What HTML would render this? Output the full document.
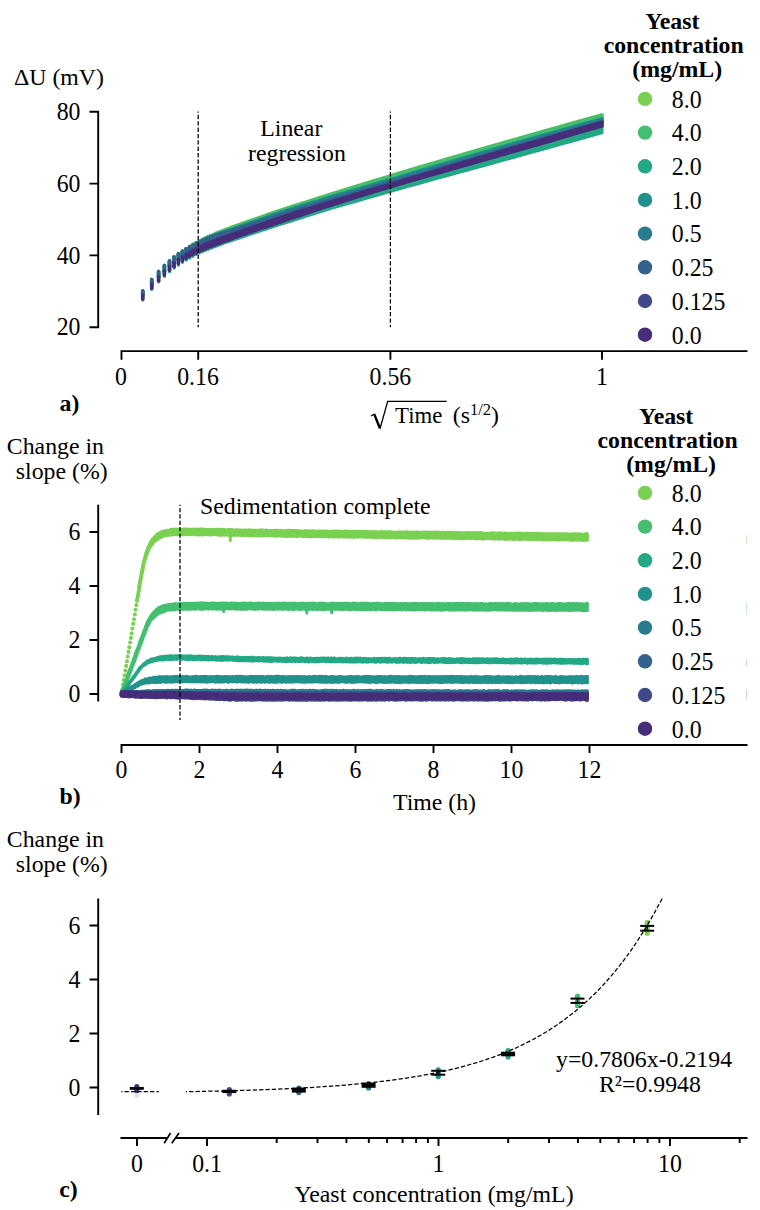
<!DOCTYPE html>
<html><head><meta charset="utf-8"><title>Figure</title>
<style>html,body{margin:0;padding:0;background:#fff}svg{display:block}text{font-family:"Liberation Serif",serif;font-size:23.8px;fill:#000}</style>
</head><body>
<svg width="760" height="1210" viewBox="0 0 760 1210">
<rect width="760" height="1210" fill="#fff"/>
<path d="M89.5 111.7H98.2V327.3H89.5M89.5 183.6H98.2M89.5 255.4H98.2" stroke="#000" stroke-width="1.9" fill="none"/>
<text transform="translate(80.5 119.8) scale(1 1.09)" text-anchor="end">80</text>
<text transform="translate(80.5 191.7) scale(1 1.09)" text-anchor="end">60</text>
<text transform="translate(80.5 263.5) scale(1 1.09)" text-anchor="end">40</text>
<text transform="translate(80.5 335.4) scale(1 1.09)" text-anchor="end">20</text>
<text x="14" y="84.6">&#916;U (mV)</text>
<path d="M121.5 359.7V351.1H747.5M198.2 351.1V359.7M390.4 351.1V359.7M602 351.1V359.7" stroke="#000" stroke-width="1.9" fill="none"/>
<text transform="translate(121.0 384.6) scale(1 1.09)" text-anchor="middle">0</text>
<text transform="translate(198.0 384.6) scale(1 1.09)" text-anchor="middle">0.16</text>
<text transform="translate(390.4 384.6) scale(1 1.09)" text-anchor="middle">0.56</text>
<text transform="translate(602.0 384.6) scale(1 1.09)" text-anchor="middle">1</text>
<text x="59.5" y="411.0" font-weight="bold" font-size="23">a)</text>
<path d="M371 416L374.4 413.9" stroke="#000" stroke-width="1.2" fill="none"/>
<path d="M374.2 414L379.8 428" stroke="#000" stroke-width="2.4" fill="none"/>
<path d="M379.9 429L387.7 401.3H446.8" stroke="#000" stroke-width="1.3" fill="none"/>
<text x="395.1" y="422.8" textLength="47.3" lengthAdjust="spacingAndGlyphs">Time</text>
<text x="452.8" y="422.8">(s<tspan dy="-8.3" font-size="16.5">1/2</tspan><tspan dy="8.3">)</tspan></text>
<text x="291.3" y="136" text-anchor="middle">Linear</text>
<text x="297" y="160.5" text-anchor="middle">regression</text>
<path d="M142.7 290.9V295.5M151.7 279.4V284.7M158.6 271.5V277.2M164.4 265.6V271.4M169.5 260.8V266.8M174.1 257.0V263.0M178.4 253.7V259.9M182.4 250.9V257.1M186.1 248.4V254.8M189.6 246.2V252.7M192.9 244.2V250.8M196.1 242.4V249.1M199.2 240.8V247.6M202.2 239.3V246.2M205.0 237.9V245.0M207.8 236.7V243.8M210.4 235.5V242.7M213.0 234.4V241.7M215.6 233.3V240.8M218.0 232.3V239.9M220.4 231.4V239.0M222.7 230.4V238.2M225.0 229.6V237.3M227.3 228.7V236.5M229.5 227.9V235.8M231.6 227.1V235.0M233.7 226.4V234.3M235.8 225.6V233.5M237.8 224.9V232.8M239.8 224.2V232.1M241.8 223.5V231.4M243.7 222.8V230.8M245.6 222.2V230.1M247.5 221.5V229.4M249.3 220.9V228.8M251.2 220.2V228.2M253.0 219.6V227.5M254.7 219.0V226.9M256.5 218.4V226.3M258.2 217.8V225.7M259.9 217.2V225.1M261.6 216.7V224.6M263.3 216.1V224.0M264.9 215.5V223.4M266.5 215.0V222.9M268.1 214.4V222.3M269.7 213.9V221.8M271.3 213.4V221.3M272.9 212.8V220.7M274.4 212.3V220.2M275.9 211.8V219.7M277.4 211.3V219.2M278.9 210.8V218.7M280.4 210.3V218.2M281.9 209.8V217.7M283.3 209.4V217.2M284.8 208.9V216.8M286.2 208.4V216.3M287.6 207.9V215.8M289.0 207.5V215.3M290.4 207.0V214.9M291.8 206.6V214.4M293.2 206.1V214.0M294.5 205.7V213.5M295.9 205.2V213.1M297.2 204.8V212.7M298.6 204.4V212.2M299.9 203.9V211.8M301.2 203.5V211.4M302.5 203.1V211.0" stroke="#7ad151" stroke-width="3.5" stroke-linecap="round" fill="none"/>
<polygon points="265.3,213.6 274.9,210.4 284.5,207.2 294.2,204.1 303.8,200.9 313.4,197.8 323.0,194.8 332.6,191.7 342.3,188.7 351.9,185.7 361.5,182.8 371.1,179.8 380.7,176.9 390.4,174.0 400.0,171.1 409.6,168.2 419.2,165.3 428.8,162.5 438.5,159.7 448.1,156.8 457.7,154.0 467.3,151.2 476.9,148.4 486.6,145.7 496.2,142.9 505.8,140.1 515.4,137.4 525.0,134.7 534.7,131.9 544.3,129.2 553.9,126.5 563.5,123.8 573.1,121.1 582.8,118.4 592.4,115.7 602.0,113.1 603.5,113.7 603.5,123.7 602.0,124.3 592.4,127.1 582.8,129.8 573.1,132.6 563.5,135.4 553.9,138.1 544.3,140.9 534.7,143.7 525.0,146.5 515.4,149.2 505.8,152.0 496.2,154.8 486.6,157.6 476.9,160.4 467.3,163.2 457.7,166.0 448.1,168.8 438.5,171.6 428.8,174.4 419.2,177.2 409.6,180.0 400.0,182.8 390.4,185.7 380.7,188.5 371.1,191.4 361.5,194.3 351.9,197.2 342.3,200.2 332.6,203.2 323.0,206.2 313.4,209.2 303.8,212.3 294.2,215.4 284.5,218.6 274.9,221.8 265.3,225.1" fill="#7ad151"/>
<path d="M142.7 290.9V295.5M151.7 279.4V284.7M158.6 271.5V277.2M164.4 265.6V271.4M169.5 260.8V266.8M174.1 257.0V263.0M178.4 253.7V259.9M182.4 250.9V257.1M186.1 248.5V254.8M189.6 246.3V252.7M192.9 244.3V250.8M196.1 242.6V249.1M199.2 240.9V247.6M202.2 239.5V246.2M205.0 238.1V245.0M207.8 236.8V243.8M210.4 235.6V242.7M213.0 234.5V241.7M215.6 233.5V240.8M218.0 232.5V239.9M220.4 231.6V239.0M222.7 230.7V238.2M225.0 229.8V237.3M227.3 229.0V236.5M229.5 228.2V235.8M231.6 227.4V235.0M233.7 226.6V234.3M235.8 225.9V233.5M237.8 225.2V232.8M239.8 224.5V232.1M241.8 223.8V231.4M243.7 223.1V230.8M245.6 222.5V230.1M247.5 221.8V229.4M249.3 221.2V228.8M251.2 220.6V228.2M253.0 220.0V227.5M254.7 219.4V226.9M256.5 218.8V226.3M258.2 218.2V225.7M259.9 217.6V225.1M261.6 217.0V224.6M263.3 216.5V224.0M264.9 215.9V223.4M266.5 215.4V222.9M268.1 214.8V222.3M269.7 214.3V221.8M271.3 213.8V221.3M272.9 213.2V220.7M274.4 212.7V220.2M275.9 212.2V219.7M277.4 211.7V219.2M278.9 211.2V218.7M280.4 210.7V218.2M281.9 210.2V217.7M283.3 209.8V217.2M284.8 209.3V216.8M286.2 208.8V216.3M287.6 208.3V215.8M289.0 207.9V215.3M290.4 207.4V214.9M291.8 207.0V214.4M293.2 206.5V214.0M294.5 206.1V213.5M295.9 205.6V213.1M297.2 205.2V212.7M298.6 204.8V212.2M299.9 204.3V211.8M301.2 203.9V211.4M302.5 203.5V211.0" stroke="#44bf70" stroke-width="3.5" stroke-linecap="round" fill="none"/>
<polygon points="265.3,214.0 274.9,210.8 284.5,207.6 294.2,204.5 303.8,201.3 313.4,198.2 323.0,195.2 332.6,192.1 342.3,189.1 351.9,186.1 361.5,183.2 371.1,180.2 380.7,177.3 390.4,174.4 400.0,171.5 409.6,168.6 419.2,165.7 428.8,162.9 438.5,160.1 448.1,157.2 457.7,154.4 467.3,151.6 476.9,148.8 486.6,146.1 496.2,143.3 505.8,140.5 515.4,137.8 525.0,135.1 534.7,132.3 544.3,129.6 553.9,126.9 563.5,124.2 573.1,121.5 582.8,118.8 592.4,116.1 602.0,113.5 603.5,114.1 603.5,123.7 602.0,124.3 592.4,127.1 582.8,129.8 573.1,132.6 563.5,135.4 553.9,138.1 544.3,140.9 534.7,143.7 525.0,146.5 515.4,149.2 505.8,152.0 496.2,154.8 486.6,157.6 476.9,160.4 467.3,163.2 457.7,166.0 448.1,168.8 438.5,171.6 428.8,174.4 419.2,177.2 409.6,180.0 400.0,182.8 390.4,185.7 380.7,188.5 371.1,191.4 361.5,194.3 351.9,197.2 342.3,200.2 332.6,203.2 323.0,206.2 313.4,209.2 303.8,212.3 294.2,215.4 284.5,218.6 274.9,221.8 265.3,225.1" fill="#44bf70"/>
<path d="M142.7 299.0V300.0M151.7 288.2V289.3M158.6 280.7V281.8M164.4 274.9V276.2M169.5 270.3V271.6M174.1 266.5V268.0M178.4 263.4V264.9M182.4 260.6V262.3M186.1 258.3V260.0M189.6 256.2V258.0M192.9 254.3V256.2M196.1 252.6V254.6M199.2 251.1V253.1M202.2 249.7V251.8M205.0 248.5V250.5M207.8 247.3V249.4M210.4 246.2V248.3M213.0 245.2V247.3M215.6 244.3V246.3M218.0 243.4V245.4M220.4 242.5V244.5M222.7 241.7V243.6M225.0 240.8V242.8M227.3 240.0V242.0M229.5 239.3V241.3M231.6 238.5V240.5M233.7 237.8V239.8M235.8 237.0V239.1M237.8 236.3V238.4M239.8 235.6V237.7M241.8 234.9V237.0M243.7 234.3V236.4M245.6 233.6V235.7M247.5 232.9V235.1M249.3 232.3V234.5M251.2 231.7V233.8M253.0 231.0V233.2M254.7 230.4V232.6M256.5 229.8V232.0M258.2 229.2V231.5M259.9 228.6V230.9M261.6 228.1V230.3M263.3 227.5V229.8M264.9 226.9V229.2M266.5 226.4V228.7M268.1 225.8V228.1M269.7 225.3V227.6M271.3 224.8V227.1M272.9 224.2V226.6M274.4 223.7V226.1M275.9 223.2V225.6M277.4 222.7V225.1M278.9 222.2V224.6M280.4 221.7V224.1M281.9 221.2V223.6M283.3 220.7V223.1M284.8 220.3V222.7M286.2 219.8V222.2M287.6 219.3V221.8M289.0 218.8V221.3M290.4 218.4V220.9M291.8 217.9V220.4M293.2 217.5V220.0M294.5 217.0V219.5M295.9 216.6V219.1M297.2 216.2V218.7M298.6 215.7V218.3M299.9 215.3V217.9M301.2 214.9V217.5M302.5 214.5V217.0" stroke="#22a884" stroke-width="3.5" stroke-linecap="round" fill="none"/>
<polygon points="265.3,225.1 274.9,221.8 284.5,218.6 294.2,215.4 303.8,212.3 313.4,209.2 323.0,206.2 332.6,203.2 342.3,200.2 351.9,197.2 361.5,194.3 371.1,191.4 380.7,188.5 390.4,185.7 400.0,182.8 409.6,180.0 419.2,177.2 428.8,174.4 438.5,171.6 448.1,168.8 457.7,166.0 467.3,163.2 476.9,160.4 486.6,157.6 496.2,154.8 505.8,152.0 515.4,149.2 525.0,146.5 534.7,143.7 544.3,140.9 553.9,138.1 563.5,135.4 573.1,132.6 582.8,129.8 592.4,127.1 602.0,124.3 603.5,124.9 603.5,133.7 602.0,134.3 592.4,137.0 582.8,139.7 573.1,142.4 563.5,145.1 553.9,147.8 544.3,150.4 534.7,153.1 525.0,155.8 515.4,158.4 505.8,161.1 496.2,163.7 486.6,166.4 476.9,169.0 467.3,171.7 457.7,174.3 448.1,177.0 438.5,179.6 428.8,182.3 419.2,185.0 409.6,187.6 400.0,190.3 390.4,193.0 380.7,195.7 371.1,198.5 361.5,201.2 351.9,204.0 342.3,206.8 332.6,209.6 323.0,212.5 313.4,215.4 303.8,218.4 294.2,221.4 284.5,224.5 274.9,227.6 265.3,230.8" fill="#22a884"/>
<path d="M142.7 290.9V295.5M151.7 279.4V284.7M158.6 271.5V277.2M164.4 265.6V271.4M169.5 260.9V266.8M174.1 257.1V263.0M178.4 254.0V259.9M182.4 251.2V257.1M186.1 248.9V254.8M189.6 246.8V252.7M192.9 244.9V250.8M196.1 243.2V249.1M199.2 241.6V247.6M202.2 240.3V246.2M205.0 239.0V245.0M207.8 237.8V243.8M210.4 236.7V242.7M213.0 235.7V241.7M215.6 234.8V240.8M218.0 233.9V239.9M220.4 233.0V239.0M222.7 232.2V238.2M225.0 231.4V237.3M227.3 230.6V236.5M229.5 229.9V235.8M231.6 229.2V235.0M233.7 228.5V234.3M235.8 227.8V233.5M237.8 227.1V232.8M239.8 226.4V232.1M241.8 225.7V231.4M243.7 225.1V230.8M245.6 224.4V230.1M247.5 223.7V229.4M249.3 223.1V228.8M251.2 222.5V228.2M253.0 221.9V227.5M254.7 221.3V226.9M256.5 220.7V226.3M258.2 220.1V225.7M259.9 219.5V225.1M261.6 218.9V224.6M263.3 218.4V224.0M264.9 217.8V223.4M266.5 217.3V222.9M268.1 216.7V222.3M269.7 216.2V221.8M271.3 215.7V221.3M272.9 215.1V220.7M274.4 214.6V220.2M275.9 214.1V219.7M277.4 213.6V219.2M278.9 213.1V218.7M280.4 212.6V218.2M281.9 212.1V217.7M283.3 211.7V217.2M284.8 211.2V216.8M286.2 210.7V216.3M287.6 210.3V215.8M289.0 209.8V215.3M290.4 209.4V214.9M291.8 208.9V214.4M293.2 208.5V214.0M294.5 208.0V213.5M295.9 207.6V213.1M297.2 207.2V212.7M298.6 206.7V212.2M299.9 206.3V211.8M301.2 205.9V211.4M302.5 205.5V211.0" stroke="#21918c" stroke-width="3.5" stroke-linecap="round" fill="none"/>
<polygon points="265.3,215.9 274.9,212.7 284.5,209.5 294.2,206.4 303.8,203.3 313.4,200.4 323.0,197.5 332.6,194.6 342.3,191.8 351.9,189.0 361.5,186.2 371.1,183.4 380.7,180.6 390.4,177.8 400.0,174.9 409.6,172.1 419.2,169.2 428.8,166.3 438.5,163.5 448.1,160.7 457.7,157.8 467.3,155.0 476.9,152.2 486.6,149.5 496.2,146.7 505.8,144.0 515.4,141.2 525.0,138.5 534.7,135.8 544.3,133.1 553.9,130.4 563.5,127.7 573.1,125.0 582.8,122.3 592.4,119.7 602.0,117.0 603.5,117.6 603.5,123.7 602.0,124.3 592.4,127.1 582.8,129.8 573.1,132.6 563.5,135.4 553.9,138.1 544.3,140.9 534.7,143.7 525.0,146.5 515.4,149.2 505.8,152.0 496.2,154.8 486.6,157.6 476.9,160.4 467.3,163.2 457.7,166.0 448.1,168.8 438.5,171.6 428.8,174.4 419.2,177.2 409.6,180.0 400.0,182.8 390.4,185.7 380.7,188.5 371.1,191.4 361.5,194.3 351.9,197.2 342.3,200.2 332.6,203.2 323.0,206.2 313.4,209.2 303.8,212.3 294.2,215.4 284.5,218.6 274.9,221.8 265.3,225.1" fill="#21918c"/>
<path d="M142.7 290.9V295.5M151.7 279.4V284.7M158.6 271.5V277.2M164.4 265.6V271.4M169.5 260.9V266.8M174.1 257.1V263.0M178.4 253.9V259.9M182.4 251.2V257.1M186.1 248.8V254.8M189.6 246.7V252.7M192.9 244.9V250.8M196.1 243.2V249.1M199.2 241.6V247.6M202.2 240.3V246.2M205.0 239.0V245.0M207.8 237.9V243.8M210.4 236.8V242.7M213.0 235.8V241.7M215.6 234.9V240.8M218.0 234.0V239.9M220.4 233.2V239.0M222.7 232.4V238.2M225.0 231.6V237.3M227.3 230.9V236.5M229.5 230.2V235.8M231.6 229.6V235.0M233.7 228.9V234.3M235.8 228.2V233.5M237.8 227.6V232.8M239.8 226.9V232.1M241.8 226.3V231.4M243.7 225.6V230.8M245.6 225.0V230.1M247.5 224.4V229.4M249.3 223.7V228.8M251.2 223.1V228.2M253.0 222.5V227.5M254.7 221.9V226.9M256.5 221.4V226.3M258.2 220.8V225.7M259.9 220.2V225.1M261.6 219.7V224.6M263.3 219.1V224.0M264.9 218.6V223.4M266.5 218.0V222.9M268.1 217.5V222.3M269.7 217.0V221.8M271.3 216.5V221.3M272.9 216.0V220.7M274.4 215.5V220.2M275.9 215.0V219.7M277.4 214.5V219.2M278.9 214.0V218.7M280.4 213.5V218.2M281.9 213.0V217.7M283.3 212.6V217.2M284.8 212.1V216.8M286.2 211.6V216.3M287.6 211.2V215.8M289.0 210.7V215.3M290.4 210.3V214.9M291.8 209.9V214.4M293.2 209.4V214.0M294.5 209.0V213.5M295.9 208.6V213.1M297.2 208.2V212.7M298.6 207.7V212.2M299.9 207.3V211.8M301.2 206.9V211.4M302.5 206.5V211.0" stroke="#287c8e" stroke-width="3.5" stroke-linecap="round" fill="none"/>
<polygon points="265.3,216.7 274.9,213.5 284.5,210.4 294.2,207.4 303.8,204.4 313.4,201.5 323.0,198.6 332.6,195.8 342.3,193.0 351.9,190.3 361.5,187.5 371.1,184.7 380.7,182.0 390.4,179.1 400.0,176.3 409.6,173.4 419.2,170.6 428.8,167.8 438.5,165.0 448.1,162.2 457.7,159.4 467.3,156.6 476.9,153.8 486.6,151.0 496.2,148.3 505.8,145.5 515.4,142.8 525.0,140.1 534.7,137.3 544.3,134.6 553.9,131.9 563.5,129.2 573.1,126.4 582.8,123.7 592.4,121.0 602.0,118.3 603.5,118.9 603.5,123.7 602.0,124.3 592.4,127.1 582.8,129.8 573.1,132.6 563.5,135.4 553.9,138.1 544.3,140.9 534.7,143.7 525.0,146.5 515.4,149.2 505.8,152.0 496.2,154.8 486.6,157.6 476.9,160.4 467.3,163.2 457.7,166.0 448.1,168.8 438.5,171.6 428.8,174.4 419.2,177.2 409.6,180.0 400.0,182.8 390.4,185.7 380.7,188.5 371.1,191.4 361.5,194.3 351.9,197.2 342.3,200.2 332.6,203.2 323.0,206.2 313.4,209.2 303.8,212.3 294.2,215.4 284.5,218.6 274.9,221.8 265.3,225.1" fill="#287c8e"/>
<path d="M142.7 290.9V295.5M151.7 279.4V284.7M158.6 271.5V277.2M164.4 265.6V271.4M169.5 260.9V266.8M174.1 257.1V263.0M178.4 253.9V259.9M182.4 251.2V257.1M186.1 248.8V254.8M189.6 246.7V252.7M192.9 244.9V250.8M196.1 243.2V249.1M199.2 241.7V247.6M202.2 240.4V246.2M205.0 239.2V245.0M207.8 238.1V243.8M210.4 237.1V242.7M213.0 236.2V241.7M215.6 235.3V240.8M218.0 234.5V239.9M220.4 233.7V239.0M222.7 233.0V238.2M225.0 232.3V237.3M227.3 231.6V236.5M229.5 231.0V235.8M231.6 230.4V235.0M233.7 229.8V234.3M235.8 229.2V233.5M237.8 228.6V232.8M239.8 228.0V232.1M241.8 227.3V231.4M243.7 226.7V230.8M245.6 226.1V230.1M247.5 225.6V229.4M249.3 225.0V228.8M251.2 224.4V228.2M253.0 223.8V227.5M254.7 223.3V226.9M256.5 222.7V226.3M258.2 222.2V225.7M259.9 221.6V225.1M261.6 221.1V224.6M263.3 220.6V224.0M264.9 220.1V223.4M266.5 219.5V222.9M268.1 219.0V222.3M269.7 218.5V221.8M271.3 218.0V221.3M272.9 217.6V220.7M274.4 217.1V220.2M275.9 216.6V219.7M277.4 216.1V219.2M278.9 215.7V218.7M280.4 215.2V218.2M281.9 214.7V217.7M283.3 214.3V217.2M284.8 213.8V216.8M286.2 213.4V216.3M287.6 213.0V215.8M289.0 212.5V215.3M290.4 212.1V214.9M291.8 211.7V214.4M293.2 211.2V214.0M294.5 210.8V213.5M295.9 210.4V213.1M297.2 210.0V212.7M298.6 209.6V212.2M299.9 209.2V211.8M301.2 208.8V211.4M302.5 208.4V211.0" stroke="#33638d" stroke-width="3.5" stroke-linecap="round" fill="none"/>
<polygon points="265.3,218.2 274.9,215.2 284.5,212.2 294.2,209.2 303.8,206.2 313.4,203.3 323.0,200.5 332.6,197.7 342.3,194.9 351.9,192.2 361.5,189.4 371.1,186.6 380.7,183.8 390.4,181.0 400.0,178.2 409.6,175.4 419.2,172.6 428.8,169.7 438.5,166.9 448.1,164.1 457.7,161.3 467.3,158.5 476.9,155.7 486.6,153.0 496.2,150.2 505.8,147.4 515.4,144.7 525.0,141.9 534.7,139.2 544.3,136.4 553.9,133.7 563.5,130.9 573.1,128.2 582.8,125.4 592.4,122.7 602.0,119.9 603.5,120.5 603.5,123.7 602.0,124.3 592.4,127.1 582.8,129.8 573.1,132.6 563.5,135.4 553.9,138.1 544.3,140.9 534.7,143.7 525.0,146.5 515.4,149.2 505.8,152.0 496.2,154.8 486.6,157.6 476.9,160.4 467.3,163.2 457.7,166.0 448.1,168.8 438.5,171.6 428.8,174.4 419.2,177.2 409.6,180.0 400.0,182.8 390.4,185.7 380.7,188.5 371.1,191.4 361.5,194.3 351.9,197.2 342.3,200.2 332.6,203.2 323.0,206.2 313.4,209.2 303.8,212.3 294.2,215.4 284.5,218.6 274.9,221.8 265.3,225.1" fill="#33638d"/>
<path d="M142.7 295.2V298.9M151.7 284.2V288.3M158.6 276.6V280.9M164.4 270.8V275.1M169.5 266.2V270.6M174.1 262.4V266.8M178.4 259.2V263.6M182.4 256.4V260.9M186.1 254.0V258.6M189.6 251.9V256.5M192.9 250.0V254.7M196.1 248.3V253.0M199.2 246.7V251.6M202.2 245.3V250.2M205.0 244.1V249.0M207.8 242.9V247.8M210.4 241.8V246.8M213.0 240.8V245.8M215.6 239.9V244.8M218.0 239.0V243.9M220.4 238.1V243.0M222.7 237.3V242.1M225.0 236.5V241.3M227.3 235.7V240.5M229.5 235.0V239.7M231.6 234.2V238.9M233.7 233.5V238.1M235.8 232.8V237.3M237.8 232.1V236.6M239.8 231.5V235.9M241.8 230.8V235.2M243.7 230.1V234.5M245.6 229.4V233.9M247.5 228.8V233.2M249.3 228.2V232.6M251.2 227.5V231.9M253.0 226.9V231.3M254.7 226.3V230.7M256.5 225.7V230.1M258.2 225.1V229.5M259.9 224.5V228.9M261.6 223.9V228.3M263.3 223.4V227.7M264.9 222.8V227.2M266.5 222.3V226.6M268.1 221.7V226.1M269.7 221.2V225.5M271.3 220.7V225.0M272.9 220.1V224.4M274.4 219.6V223.9M275.9 219.1V223.4M277.4 218.6V222.9M278.9 218.1V222.4M280.4 217.6V221.9M281.9 217.1V221.4M283.3 216.6V220.9M284.8 216.2V220.4M286.2 215.7V220.0M287.6 215.2V219.5M289.0 214.8V219.0M290.4 214.3V218.6M291.8 213.9V218.1M293.2 213.4V217.6M294.5 213.0V217.2M295.9 212.6V216.8M297.2 212.1V216.3M298.6 211.7V215.9M299.9 211.3V215.4M301.2 210.9V215.0M302.5 210.4V214.6" stroke="#3f4889" stroke-width="3.5" stroke-linecap="round" fill="none"/>
<polygon points="265.3,220.9 274.9,217.7 284.5,214.5 294.2,211.4 303.8,208.3 313.4,205.3 323.0,202.3 332.6,199.4 342.3,196.5 351.9,193.6 361.5,190.7 371.1,187.9 380.7,185.1 390.4,182.3 400.0,179.5 409.6,176.6 419.2,173.8 428.8,170.9 438.5,168.0 448.1,165.2 457.7,162.3 467.3,159.4 476.9,156.6 486.6,153.7 496.2,150.9 505.8,148.1 515.4,145.3 525.0,142.5 534.7,139.8 544.3,137.0 553.9,134.2 563.5,131.4 573.1,128.7 582.8,125.9 592.4,123.2 602.0,120.4 603.5,121.0 603.5,127.2 602.0,127.8 592.4,130.5 582.8,133.3 573.1,136.1 563.5,138.9 553.9,141.7 544.3,144.5 534.7,147.2 525.0,150.0 515.4,152.7 505.8,155.5 496.2,158.3 486.6,161.0 476.9,163.7 467.3,166.5 457.7,169.2 448.1,172.0 438.5,174.7 428.8,177.5 419.2,180.2 409.6,183.0 400.0,185.8 390.4,188.7 380.7,191.5 371.1,194.5 361.5,197.4 351.9,200.4 342.3,203.5 332.6,206.5 323.0,209.6 313.4,212.8 303.8,215.9 294.2,219.1 284.5,222.3 274.9,225.5 265.3,228.8" fill="#3f4889"/>
<path d="M142.7 295.6V298.6M151.7 284.6V288.0M158.6 277.0V280.6M164.4 271.2V274.8M169.5 266.6V270.3M174.1 262.8V266.5M178.4 259.6V263.3M182.4 256.8V260.6M186.1 254.4V258.3M189.6 252.3V256.2M192.9 250.4V254.4M196.1 248.7V252.7M199.2 247.1V251.3M202.2 245.7V249.9M205.0 244.5V248.7M207.8 243.3V247.5M210.4 242.2V246.5M213.0 241.2V245.5M215.6 240.3V244.5M218.0 239.4V243.6M220.4 238.5V242.7M222.7 237.7V241.8M225.0 236.9V241.0M227.3 236.1V240.2M229.5 235.4V239.4M231.6 234.6V238.6M233.7 233.9V237.8M235.8 233.2V237.0M237.8 232.5V236.3M239.8 231.9V235.6M241.8 231.2V234.9M243.7 230.5V234.2M245.6 229.8V233.6M247.5 229.2V232.9M249.3 228.6V232.3M251.2 227.9V231.6M253.0 227.3V231.0M254.7 226.7V230.4M256.5 226.1V229.8M258.2 225.5V229.2M259.9 224.9V228.6M261.6 224.3V228.0M263.3 223.8V227.4M264.9 223.2V226.9M266.5 222.7V226.3M268.1 222.1V225.8M269.7 221.6V225.2M271.3 221.1V224.7M272.9 220.5V224.1M274.4 220.0V223.6M275.9 219.5V223.1M277.4 219.0V222.6M278.9 218.5V222.1M280.4 218.0V221.6M281.9 217.5V221.1M283.3 217.0V220.6M284.8 216.6V220.1M286.2 216.1V219.7M287.6 215.6V219.2M289.0 215.2V218.7M290.4 214.7V218.3M291.8 214.3V217.8M293.2 213.8V217.3M294.5 213.4V216.9M295.9 213.0V216.5M297.2 212.5V216.0M298.6 212.1V215.6M299.9 211.7V215.1M301.2 211.3V214.7M302.5 210.8V214.3" stroke="#472c7a" stroke-width="3.5" stroke-linecap="round" fill="none"/>
<polygon points="265.3,221.3 274.9,218.1 284.5,214.9 294.2,211.8 303.8,208.7 313.4,205.7 323.0,202.7 332.6,199.8 342.3,196.9 351.9,194.0 361.5,191.1 371.1,188.3 380.7,185.5 390.4,182.7 400.0,179.9 409.6,177.0 419.2,174.2 428.8,171.3 438.5,168.4 448.1,165.6 457.7,162.7 467.3,159.8 476.9,157.0 486.6,154.1 496.2,151.3 505.8,148.5 515.4,145.7 525.0,142.9 534.7,140.2 544.3,137.4 553.9,134.6 563.5,131.8 573.1,129.1 582.8,126.3 592.4,123.6 602.0,120.8 603.5,121.4 603.5,126.9 602.0,127.5 592.4,130.2 582.8,133.0 573.1,135.8 563.5,138.6 553.9,141.4 544.3,144.2 534.7,146.9 525.0,149.7 515.4,152.4 505.8,155.2 496.2,158.0 486.6,160.7 476.9,163.4 467.3,166.2 457.7,168.9 448.1,171.7 438.5,174.4 428.8,177.2 419.2,179.9 409.6,182.7 400.0,185.5 390.4,188.4 380.7,191.2 371.1,194.2 361.5,197.1 351.9,200.1 342.3,203.2 332.6,206.2 323.0,209.3 313.4,212.5 303.8,215.6 294.2,218.8 284.5,222.0 274.9,225.2 265.3,228.5" fill="#472c7a"/>
<path d="M198.2 111.6L198.2 327.3" stroke="#000" stroke-width="1.25" fill="none" stroke-dasharray="4.3 2.06" stroke-dashoffset="3.1"/>
<path d="M390.4 111.6L390.4 327.3" stroke="#000" stroke-width="1.25" fill="none" stroke-dasharray="4.3 2.06" stroke-dashoffset="3.1"/>
<text x="672.3" y="28.7" text-anchor="middle" font-weight="bold">Yeast</text>
<text x="673.7" y="52.7" text-anchor="middle" font-weight="bold">concentration</text>
<text x="677.2" y="76.7" text-anchor="middle" font-weight="bold">(mg/mL)</text>
<circle cx="645" cy="98.9" r="7.2" fill="#7ad151"/>
<text transform="translate(671.8 107.7) scale(1 1.09)" font-size="22.8">8.0</text>
<circle cx="645" cy="132.6" r="7.2" fill="#44bf70"/>
<text transform="translate(671.8 141.4) scale(1 1.09)" font-size="22.8">4.0</text>
<circle cx="645" cy="166.3" r="7.2" fill="#22a884"/>
<text transform="translate(671.8 175.1) scale(1 1.09)" font-size="22.8">2.0</text>
<circle cx="645" cy="199.9" r="7.2" fill="#21918c"/>
<text transform="translate(671.8 208.7) scale(1 1.09)" font-size="22.8">1.0</text>
<circle cx="645" cy="233.6" r="7.2" fill="#287c8e"/>
<text transform="translate(671.8 242.4) scale(1 1.09)" font-size="22.8">0.5</text>
<circle cx="645" cy="267.3" r="7.2" fill="#33638d"/>
<text transform="translate(671.8 276.1) scale(1 1.09)" font-size="22.8">0.25</text>
<circle cx="645" cy="301.0" r="7.2" fill="#3f4889"/>
<text transform="translate(671.8 309.8) scale(1 1.09)" font-size="22.8">0.125</text>
<circle cx="645" cy="334.7" r="7.2" fill="#472c7a"/>
<text transform="translate(671.8 343.5) scale(1 1.09)" font-size="22.8">0.0</text>
<path d="M98.2 504.7V701.5" stroke="#000" stroke-width="1.9" fill="none"/>
<text transform="translate(80.5 702.1) scale(1 1.09)" text-anchor="end">0</text>
<text transform="translate(80.5 648.1) scale(1 1.09)" text-anchor="end">2</text>
<text transform="translate(80.5 594.1) scale(1 1.09)" text-anchor="end">4</text>
<text transform="translate(80.5 540.1) scale(1 1.09)" text-anchor="end">6</text>
<path d="M89.5 694.0H98.2M89.5 640.0H98.2M89.5 586.0H98.2M89.5 532.0H98.2" stroke="#000" stroke-width="1.9" fill="none"/>
<text transform="translate(121.5 778.3) scale(1 1.09)" text-anchor="middle">0</text>
<text transform="translate(199.5 778.3) scale(1 1.09)" text-anchor="middle">2</text>
<text transform="translate(277.5 778.3) scale(1 1.09)" text-anchor="middle">4</text>
<text transform="translate(355.5 778.3) scale(1 1.09)" text-anchor="middle">6</text>
<text transform="translate(433.5 778.3) scale(1 1.09)" text-anchor="middle">8</text>
<text transform="translate(511.5 778.3) scale(1 1.09)" text-anchor="middle">10</text>
<text transform="translate(589.5 778.3) scale(1 1.09)" text-anchor="middle">12</text>
<path d="M121.5 753V745H747.5M199.5 745V753M277.5 745V753M355.5 745V753M433.5 745V753M511.5 745V753M589.5 745V753" stroke="#000" stroke-width="1.9" fill="none"/>
<text x="6.8" y="453.9">Change in</text>
<text x="15.8" y="479.1">slope (%)</text>
<text x="59.5" y="804.1" font-weight="bold" font-size="23">b)</text>
<text x="434.5" y="810" text-anchor="middle">Time (h)</text>
<text x="200" y="514">Sedimentation complete</text>
<circle cx="122.3" cy="689.3" r="2.05" fill="#7ad151"/>
<circle cx="123.1" cy="684.6" r="2.05" fill="#7ad151"/>
<circle cx="123.8" cy="680.0" r="2.05" fill="#7ad151"/>
<circle cx="124.6" cy="675.3" r="2.05" fill="#7ad151"/>
<circle cx="125.4" cy="670.6" r="2.05" fill="#7ad151"/>
<circle cx="126.2" cy="665.9" r="2.05" fill="#7ad151"/>
<circle cx="127.0" cy="661.3" r="2.05" fill="#7ad151"/>
<circle cx="127.7" cy="656.6" r="2.05" fill="#7ad151"/>
<circle cx="128.5" cy="651.9" r="2.05" fill="#7ad151"/>
<circle cx="129.3" cy="647.2" r="2.05" fill="#7ad151"/>
<circle cx="130.1" cy="642.5" r="2.05" fill="#7ad151"/>
<circle cx="130.9" cy="637.9" r="2.05" fill="#7ad151"/>
<circle cx="131.6" cy="633.2" r="2.05" fill="#7ad151"/>
<circle cx="132.4" cy="628.5" r="2.05" fill="#7ad151"/>
<circle cx="133.2" cy="623.8" r="2.05" fill="#7ad151"/>
<circle cx="134.0" cy="619.2" r="2.05" fill="#7ad151"/>
<circle cx="134.8" cy="614.5" r="2.05" fill="#7ad151"/>
<circle cx="135.5" cy="609.8" r="2.05" fill="#7ad151"/>
<circle cx="136.3" cy="605.1" r="2.05" fill="#7ad151"/>
<circle cx="137.1" cy="600.5" r="2.05" fill="#7ad151"/>
<circle cx="137.9" cy="595.8" r="2.05" fill="#7ad151"/>
<circle cx="138.7" cy="591.1" r="2.05" fill="#7ad151"/>
<circle cx="139.4" cy="586.4" r="2.05" fill="#7ad151"/>
<circle cx="140.2" cy="581.7" r="2.05" fill="#7ad151"/>
<circle cx="141.0" cy="577.1" r="2.05" fill="#7ad151"/>
<circle cx="141.8" cy="572.6" r="2.05" fill="#7ad151"/>
<circle cx="142.6" cy="568.6" r="2.05" fill="#7ad151"/>
<polygon points="137.1,599.8 137.9,595.0 138.7,590.7 139.4,585.4 140.2,580.6 141.0,576.3 141.8,571.7 142.6,568.1 143.3,564.1 144.1,560.6 144.9,557.6 145.7,554.6 146.5,551.9 147.2,549.9 148.0,548.3 148.8,546.0 149.6,544.5 150.4,542.6 151.1,542.0 151.9,540.1 152.7,539.1 153.5,538.6 154.3,537.3 155.0,536.8 155.8,535.8 156.6,535.2 157.4,534.0 158.2,533.9 158.9,533.4 159.7,533.3 160.5,532.5 161.3,532.4 162.1,531.6 162.8,531.6 163.6,531.3 164.4,530.9 165.2,531.3 166.0,530.7 166.7,531.1 167.5,530.6 168.3,530.5 169.1,530.4 169.9,530.3 170.6,529.7 171.4,529.9 172.2,529.6 173.0,529.7 173.8,529.4 174.5,530.1 175.3,529.4 176.1,529.8 176.9,529.4 177.7,529.9 178.4,529.7 179.2,529.2 180.0,529.8 181.0,529.9 181.9,529.8 182.9,529.5 183.9,529.1 184.9,529.2 185.8,529.8 186.8,529.5 187.8,529.2 188.8,529.8 189.7,529.6 190.7,529.5 191.7,529.4 192.7,529.4 193.6,529.3 194.6,529.1 195.6,529.9 196.6,529.5 197.5,529.6 198.5,529.4 199.5,529.8 200.5,529.1 201.4,529.5 202.4,529.2 203.4,529.3 204.4,530.1 205.3,529.8 206.3,529.6 207.3,529.7 208.3,530.0 209.2,529.6 210.2,529.8 211.2,529.9 212.2,529.6 213.1,529.8 214.1,530.0 215.1,530.2 216.1,529.5 217.0,530.2 218.0,529.4 219.0,530.1 220.0,530.1 220.9,529.6 221.9,529.8 222.9,530.2 223.9,529.5 224.8,530.1 225.8,530.2 226.8,530.0 227.8,530.2 228.7,529.8 229.7,529.8 230.7,529.9 231.7,529.8 232.6,529.9 233.6,530.5 234.6,530.2 235.6,530.0 236.5,529.9 237.5,530.6 238.5,530.1 239.5,530.6 240.4,530.2 241.4,530.2 242.4,530.6 243.4,530.5 244.3,530.3 245.3,530.2 246.3,530.6 247.3,530.2 248.2,530.7 249.2,529.9 250.2,530.3 251.2,530.4 252.1,530.8 253.1,530.2 254.1,530.7 255.1,530.6 256.0,530.6 257.0,530.6 258.0,530.9 259.0,530.3 259.9,530.4 260.9,530.2 261.9,530.1 262.9,530.3 263.8,530.9 264.8,530.9 265.8,530.2 266.8,530.7 267.7,530.6 268.7,530.7 269.7,530.8 270.7,530.5 271.6,531.1 272.6,530.7 273.6,530.8 274.6,530.9 275.5,530.5 276.5,530.4 277.5,530.7 278.5,531.0 279.4,531.1 280.4,531.0 281.4,530.5 282.4,531.2 283.3,531.1 284.3,531.2 285.3,530.9 286.3,531.3 287.2,530.5 288.2,530.5 289.2,530.5 290.2,530.8 291.1,530.8 292.1,530.7 293.1,531.1 294.1,530.6 295.0,531.1 296.0,530.8 297.0,531.2 298.0,530.7 298.9,530.9 299.9,531.5 300.9,531.2 301.9,531.4 302.8,531.3 303.8,531.3 304.8,530.9 305.8,531.3 306.7,530.8 307.7,531.5 308.7,531.6 309.7,531.6 310.6,530.9 311.6,531.1 312.6,531.1 313.6,530.9 314.5,531.4 315.5,531.6 316.5,531.2 317.5,531.7 318.4,531.6 319.4,531.0 320.4,531.6 321.4,531.7 322.3,531.1 323.3,531.5 324.3,531.5 325.3,531.5 326.2,531.1 327.2,531.6 328.2,531.6 329.2,531.8 330.1,531.7 331.1,531.3 332.1,531.7 333.1,531.8 334.0,531.9 335.0,531.2 336.0,531.1 337.0,531.7 337.9,531.3 338.9,531.6 339.9,532.0 340.9,531.5 341.8,531.4 342.8,531.6 343.8,531.8 344.8,531.3 345.7,531.5 346.7,531.3 347.7,531.8 348.7,532.0 349.6,531.6 350.6,531.6 351.6,531.8 352.6,531.5 353.5,531.5 354.5,531.6 355.5,531.7 356.5,531.4 357.4,532.0 358.4,531.9 359.4,531.6 360.4,531.4 361.3,532.1 362.3,531.5 363.3,531.5 364.3,531.5 365.2,531.5 366.2,532.2 367.2,531.7 368.2,531.7 369.1,532.2 370.1,532.0 371.1,531.7 372.1,531.9 373.0,532.3 374.0,531.9 375.0,532.2 376.0,531.6 376.9,532.2 377.9,532.3 378.9,532.3 379.9,532.2 380.8,531.9 381.8,531.7 382.8,532.1 383.8,532.3 384.7,531.8 385.7,531.9 386.7,532.1 387.7,532.3 388.6,532.5 389.6,531.8 390.6,531.9 391.6,532.4 392.5,532.3 393.5,532.4 394.5,532.6 395.5,532.6 396.4,532.5 397.4,532.5 398.4,532.1 399.4,532.4 400.3,532.0 401.3,532.5 402.3,532.5 403.3,532.5 404.2,532.3 405.2,532.2 406.2,532.3 407.2,531.9 408.1,532.7 409.1,532.4 410.1,532.3 411.1,532.4 412.0,532.6 413.0,532.3 414.0,532.7 415.0,532.8 415.9,532.3 416.9,532.1 417.9,532.7 418.9,532.9 419.8,532.2 420.8,532.7 421.8,532.8 422.8,532.9 423.7,532.2 424.7,532.2 425.7,533.0 426.7,532.2 427.6,532.3 428.6,532.6 429.6,532.5 430.6,532.8 431.5,532.3 432.5,533.0 433.5,532.4 434.5,532.9 435.4,532.3 436.4,532.6 437.4,532.3 438.4,532.5 439.3,532.5 440.3,532.9 441.3,532.7 442.3,532.3 443.2,533.2 444.2,533.1 445.2,533.1 446.2,532.5 447.1,532.7 448.1,532.6 449.1,532.5 450.1,532.4 451.0,532.8 452.0,532.5 453.0,532.6 454.0,533.2 454.9,532.9 455.9,532.6 456.9,533.0 457.9,532.7 458.8,532.9 459.8,532.7 460.8,533.0 461.8,533.1 462.7,533.0 463.7,532.9 464.7,533.2 465.7,533.3 466.6,532.7 467.6,532.7 468.6,532.7 469.6,533.5 470.5,533.4 471.5,532.8 472.5,533.5 473.5,532.8 474.4,533.1 475.4,533.1 476.4,533.5 477.4,532.7 478.3,533.0 479.3,533.2 480.3,532.8 481.3,532.9 482.2,533.1 483.2,533.5 484.2,533.4 485.2,533.5 486.1,533.5 487.1,533.4 488.1,533.6 489.1,533.4 490.0,533.5 491.0,533.1 492.0,533.0 493.0,533.5 493.9,533.0 494.9,533.7 495.9,533.4 496.9,533.2 497.8,533.7 498.8,533.1 499.8,533.4 500.8,533.0 501.7,533.8 502.7,533.5 503.7,533.7 504.7,533.2 505.6,533.7 506.6,533.6 507.6,533.6 508.6,533.9 509.5,533.4 510.5,533.4 511.5,533.7 512.5,533.8 513.4,533.4 514.4,533.7 515.4,533.3 516.4,533.6 517.3,533.8 518.3,533.2 519.3,533.8 520.3,533.2 521.2,534.0 522.2,533.6 523.2,533.6 524.2,533.8 525.1,533.7 526.1,533.9 527.1,533.3 528.1,533.7 529.0,533.8 530.0,534.1 531.0,533.3 532.0,533.7 532.9,533.9 533.9,533.8 534.9,533.4 535.9,533.9 536.8,533.5 537.8,533.5 538.8,534.2 539.8,533.6 540.7,533.8 541.7,534.1 542.7,534.0 543.7,533.9 544.6,534.2 545.6,533.9 546.6,534.0 547.6,534.2 548.5,534.1 549.5,534.1 550.5,533.9 551.5,534.0 552.4,533.9 553.4,534.2 554.4,533.9 555.4,534.0 556.3,534.2 557.3,534.0 558.3,533.9 559.3,534.3 560.2,533.9 561.2,534.4 562.2,534.3 563.2,534.0 564.1,534.3 565.1,533.7 566.1,534.0 567.1,534.5 568.0,534.2 569.0,534.2 570.0,534.3 571.0,534.3 571.9,534.3 572.9,534.1 573.9,533.9 574.9,534.0 575.8,534.0 576.8,534.2 577.8,534.7 578.8,534.1 579.7,534.2 580.7,534.2 581.7,534.4 582.7,534.7 583.6,534.7 584.6,534.2 585.6,534.1 586.6,534.7 586.8,534.3 586.8,539.7 586.6,539.7 585.6,539.9 584.6,540.1 583.6,539.4 582.7,540.2 581.7,539.9 580.7,539.6 579.7,540.0 578.8,539.5 577.8,540.0 576.8,539.5 575.8,540.0 574.9,539.7 573.9,539.7 572.9,540.1 571.9,540.0 571.0,539.3 570.0,539.8 569.0,539.4 568.0,539.6 567.1,539.5 566.1,539.6 565.1,539.1 564.1,539.3 563.2,539.1 562.2,539.7 561.2,539.4 560.2,539.1 559.3,539.5 558.3,539.9 557.3,539.4 556.3,539.2 555.4,539.6 554.4,539.0 553.4,539.7 552.4,539.1 551.5,539.4 550.5,539.6 549.5,539.5 548.5,539.6 547.6,539.2 546.6,539.0 545.6,539.0 544.6,539.7 543.7,539.7 542.7,539.2 541.7,539.3 540.7,539.3 539.8,538.8 538.8,539.3 537.8,539.6 536.8,538.8 535.9,538.8 534.9,539.2 533.9,539.5 532.9,538.9 532.0,539.0 531.0,539.5 530.0,539.4 529.0,539.1 528.1,539.3 527.1,538.8 526.1,539.0 525.1,538.6 524.2,539.0 523.2,538.8 522.2,538.9 521.2,539.3 520.3,538.7 519.3,539.4 518.3,539.3 517.3,538.5 516.4,538.6 515.4,538.9 514.4,539.2 513.4,539.2 512.5,539.0 511.5,538.5 510.5,538.5 509.5,539.2 508.6,538.4 507.6,538.8 506.6,538.9 505.6,539.1 504.7,539.2 503.7,538.8 502.7,538.5 501.7,538.4 500.8,538.8 499.8,538.7 498.8,538.8 497.8,538.9 496.9,538.3 495.9,538.5 494.9,538.5 493.9,539.0 493.0,538.3 492.0,538.2 491.0,538.7 490.0,538.2 489.1,538.1 488.1,538.3 487.1,538.1 486.1,538.4 485.2,538.1 484.2,538.6 483.2,538.8 482.2,538.9 481.3,538.2 480.3,538.0 479.3,538.6 478.3,538.2 477.4,538.4 476.4,538.8 475.4,538.0 474.4,538.0 473.5,538.2 472.5,538.1 471.5,538.0 470.5,538.4 469.6,537.9 468.6,537.8 467.6,538.1 466.6,538.1 465.7,538.4 464.7,538.3 463.7,538.2 462.7,537.8 461.8,538.6 460.8,538.6 459.8,538.3 458.8,538.0 457.9,538.6 456.9,537.9 455.9,537.9 454.9,537.8 454.0,538.5 453.0,537.7 452.0,538.3 451.0,537.8 450.1,538.1 449.1,538.1 448.1,537.9 447.1,537.8 446.2,538.1 445.2,537.9 444.2,537.6 443.2,538.1 442.3,537.8 441.3,538.2 440.3,538.1 439.3,537.6 438.4,537.6 437.4,538.0 436.4,537.7 435.4,537.7 434.5,538.1 433.5,537.7 432.5,537.6 431.5,537.6 430.6,537.6 429.6,538.1 428.6,537.9 427.6,537.8 426.7,538.0 425.7,537.3 424.7,537.4 423.7,537.6 422.8,537.6 421.8,537.6 420.8,537.6 419.8,537.9 418.9,537.5 417.9,537.5 416.9,538.0 415.9,537.5 415.0,538.0 414.0,538.0 413.0,537.5 412.0,537.3 411.1,538.0 410.1,537.9 409.1,537.8 408.1,537.4 407.2,537.8 406.2,537.2 405.2,537.9 404.2,537.6 403.3,537.6 402.3,537.5 401.3,537.4 400.3,537.5 399.4,537.0 398.4,537.5 397.4,537.7 396.4,536.9 395.5,537.7 394.5,537.2 393.5,536.9 392.5,536.9 391.6,537.6 390.6,536.9 389.6,537.4 388.6,537.7 387.7,536.9 386.7,537.2 385.7,537.4 384.7,536.9 383.8,537.6 382.8,537.3 381.8,537.1 380.8,536.8 379.9,536.9 378.9,537.3 377.9,536.9 376.9,537.5 376.0,537.4 375.0,537.0 374.0,537.3 373.0,537.0 372.1,536.8 371.1,537.2 370.1,536.8 369.1,536.6 368.2,536.8 367.2,537.0 366.2,536.8 365.2,536.9 364.3,536.6 363.3,536.7 362.3,536.5 361.3,536.7 360.4,536.5 359.4,536.6 358.4,536.9 357.4,537.0 356.5,536.8 355.5,536.5 354.5,537.1 353.5,536.3 352.6,537.0 351.6,536.6 350.6,537.0 349.6,536.4 348.7,536.9 347.7,537.1 346.7,536.6 345.7,536.4 344.8,536.6 343.8,536.9 342.8,536.7 341.8,536.6 340.9,536.3 339.9,536.2 338.9,537.0 337.9,536.6 337.0,536.3 336.0,536.4 335.0,536.1 334.0,536.9 333.1,536.8 332.1,536.2 331.1,536.3 330.1,536.1 329.2,536.8 328.2,536.7 327.2,536.1 326.2,536.5 325.3,536.6 324.3,536.4 323.3,536.3 322.3,536.2 321.4,536.3 320.4,536.6 319.4,536.4 318.4,536.0 317.5,536.6 316.5,536.4 315.5,536.0 314.5,536.3 313.6,536.3 312.6,536.0 311.6,536.3 310.6,536.5 309.7,536.3 308.7,536.4 307.7,536.2 306.7,536.0 305.8,536.3 304.8,536.2 303.8,536.5 302.8,536.2 301.9,535.7 300.9,535.8 299.9,536.0 298.9,535.6 298.0,535.9 297.0,536.4 296.0,536.0 295.0,536.0 294.1,536.3 293.1,535.7 292.1,535.6 291.1,536.2 290.2,535.8 289.2,535.9 288.2,535.4 287.2,536.2 286.3,536.2 285.3,535.9 284.3,535.4 283.3,536.1 282.4,535.7 281.4,536.1 280.4,535.4 279.4,535.3 278.5,535.7 277.5,535.7 276.5,535.5 275.5,536.0 274.6,535.8 273.6,535.4 272.6,535.6 271.6,535.2 270.7,535.3 269.7,535.3 268.7,535.3 267.7,535.1 266.8,535.3 265.8,535.3 264.8,535.4 263.8,535.8 262.9,535.4 261.9,535.2 260.9,535.6 259.9,535.1 259.0,535.5 258.0,535.7 257.0,534.9 256.0,535.2 255.1,535.5 254.1,535.5 253.1,535.1 252.1,535.4 251.2,535.3 250.2,535.4 249.2,535.0 248.2,535.5 247.3,535.1 246.3,535.2 245.3,534.9 244.3,535.2 243.4,535.3 242.4,534.9 241.4,534.7 240.4,535.3 239.5,535.0 238.5,534.6 237.5,535.0 236.5,534.6 235.6,535.2 234.6,534.6 233.6,535.1 232.6,534.7 231.7,535.3 230.7,534.6 229.7,534.6 228.7,535.0 227.8,535.1 226.8,534.5 225.8,534.5 224.8,535.0 223.9,534.3 222.9,534.6 221.9,535.0 220.9,534.8 220.0,535.0 219.0,534.4 218.0,535.0 217.0,534.6 216.1,534.4 215.1,534.3 214.1,534.2 213.1,534.2 212.2,534.4 211.2,534.7 210.2,534.8 209.2,534.4 208.3,534.6 207.3,534.6 206.3,534.0 205.3,534.4 204.4,534.2 203.4,534.5 202.4,534.8 201.4,534.4 200.5,534.5 199.5,534.5 198.5,534.4 197.5,534.7 196.6,534.6 195.6,534.6 194.6,533.8 193.6,534.1 192.7,533.9 191.7,534.6 190.7,534.6 189.7,533.9 188.8,534.4 187.8,534.3 186.8,534.3 185.8,533.8 184.9,534.3 183.9,534.5 182.9,534.6 181.9,533.9 181.0,534.5 180.0,534.1 179.2,534.1 178.4,534.4 177.7,534.0 176.9,534.6 176.1,534.1 175.3,534.1 174.5,534.4 173.8,534.0 173.0,534.5 172.2,534.3 171.4,534.4 170.6,534.3 169.9,535.2 169.1,534.7 168.3,534.8 167.5,534.9 166.7,535.0 166.0,535.6 165.2,535.6 164.4,535.6 163.6,536.1 162.8,536.3 162.1,536.4 161.3,536.8 160.5,537.5 159.7,537.9 158.9,538.2 158.2,538.7 157.4,539.5 156.6,539.6 155.8,540.5 155.0,540.7 154.3,541.2 153.5,542.0 152.7,543.4 151.9,544.4 151.1,545.2 150.4,546.1 149.6,547.6 148.8,549.2 148.0,550.9 147.2,553.3 146.5,554.8 145.7,557.5 144.9,560.0 144.1,562.8 143.3,565.8 142.6,569.7 141.8,573.4 141.0,578.0 140.2,582.2 139.4,587.2 138.7,591.2 137.9,596.2 137.1,601.1" fill="#7ad151" stroke="#7ad151" stroke-width="3.5" stroke-linejoin="round"/>
<path d="M230.3 532.4V540.4" stroke="#7ad151" stroke-width="3" stroke-linecap="round" fill="none"/>
<rect x="585" y="532.6" width="3.7" height="8.9" fill="#7ad151"/>
<polygon points="121.5,692.0 122.3,690.1 123.1,688.3 123.8,685.7 124.6,684.1 125.4,682.3 126.2,680.2 127.0,678.0 127.7,675.8 128.5,673.1 129.3,671.7 130.1,669.0 130.9,667.4 131.6,665.3 132.4,663.0 133.2,660.8 134.0,658.4 134.8,656.6 135.5,654.3 136.3,652.0 137.1,649.9 137.9,648.4 138.7,646.4 139.4,643.6 140.2,641.4 141.0,639.5 141.8,637.3 142.6,635.2 143.3,633.5 144.1,631.2 144.9,629.1 145.7,626.8 146.5,625.1 147.2,622.9 148.0,621.3 148.8,619.8 149.6,618.7 150.4,616.8 151.1,616.0 151.9,614.6 152.7,614.1 153.5,612.7 154.3,612.0 155.0,611.5 155.8,610.6 156.6,609.4 157.4,608.9 158.2,609.1 158.9,607.8 159.7,607.6 160.5,607.8 161.3,606.6 162.1,606.4 162.8,606.2 163.6,605.8 164.4,605.9 165.2,605.8 166.0,605.3 166.7,605.0 167.5,605.4 168.3,605.3 169.1,604.9 169.9,604.4 170.6,604.7 171.4,604.6 172.2,604.4 173.0,604.7 173.8,604.2 174.5,604.2 175.3,603.8 176.1,604.1 176.9,604.3 177.7,604.2 178.4,603.7 179.2,604.3 180.0,604.0 181.0,603.7 181.9,603.7 182.9,604.0 183.9,603.4 184.9,603.8 185.8,603.9 186.8,603.7 187.8,604.0 188.8,603.6 189.7,603.6 190.7,603.4 191.7,604.0 192.7,603.4 193.6,603.7 194.6,603.5 195.6,603.9 196.6,603.9 197.5,603.1 198.5,604.0 199.5,603.6 200.5,603.1 201.4,603.5 202.4,603.1 203.4,603.6 204.4,603.2 205.3,603.4 206.3,603.3 207.3,603.6 208.3,603.8 209.2,603.9 210.2,603.4 211.2,603.6 212.2,603.1 213.1,603.4 214.1,603.9 215.1,603.2 216.1,603.9 217.0,603.7 218.0,603.3 219.0,603.8 220.0,603.3 220.9,603.9 221.9,603.2 222.9,603.2 223.9,603.8 224.8,603.5 225.8,603.2 226.8,603.5 227.8,603.4 228.7,603.6 229.7,603.8 230.7,603.9 231.7,603.1 232.6,603.6 233.6,604.0 234.6,603.5 235.6,603.8 236.5,603.2 237.5,603.9 238.5,603.6 239.5,603.9 240.4,603.8 241.4,603.9 242.4,603.2 243.4,603.8 244.3,603.3 245.3,603.4 246.3,603.4 247.3,603.7 248.2,603.7 249.2,604.0 250.2,603.1 251.2,603.3 252.1,603.5 253.1,603.9 254.1,603.6 255.1,603.6 256.0,603.8 257.0,603.7 258.0,603.4 259.0,603.2 259.9,603.6 260.9,603.9 261.9,603.7 262.9,603.2 263.8,603.5 264.8,603.5 265.8,603.7 266.8,603.7 267.7,604.0 268.7,603.5 269.7,603.5 270.7,603.7 271.6,604.0 272.6,603.8 273.6,603.6 274.6,603.9 275.5,603.6 276.5,604.0 277.5,603.4 278.5,603.3 279.4,603.9 280.4,603.4 281.4,603.9 282.4,603.7 283.3,603.6 284.3,603.3 285.3,603.9 286.3,603.2 287.2,604.0 288.2,604.0 289.2,603.5 290.2,603.3 291.1,604.0 292.1,603.6 293.1,603.3 294.1,603.6 295.0,603.4 296.0,603.6 297.0,603.8 298.0,604.0 298.9,603.9 299.9,603.3 300.9,603.6 301.9,603.6 302.8,604.1 303.8,603.3 304.8,603.7 305.8,604.0 306.7,603.6 307.7,603.4 308.7,603.7 309.7,603.5 310.6,604.1 311.6,603.3 312.6,603.4 313.6,603.3 314.5,603.9 315.5,603.5 316.5,604.0 317.5,604.0 318.4,604.1 319.4,603.5 320.4,603.2 321.4,603.6 322.3,604.1 323.3,603.9 324.3,603.3 325.3,603.9 326.2,604.1 327.2,604.1 328.2,603.9 329.2,604.0 330.1,604.0 331.1,603.6 332.1,603.3 333.1,603.9 334.0,603.4 335.0,603.6 336.0,604.2 337.0,603.8 337.9,603.7 338.9,604.1 339.9,603.5 340.9,604.2 341.8,604.1 342.8,603.6 343.8,603.6 344.8,603.4 345.7,604.1 346.7,603.4 347.7,603.3 348.7,604.1 349.6,603.8 350.6,603.9 351.6,603.9 352.6,603.3 353.5,603.4 354.5,603.7 355.5,603.3 356.5,603.7 357.4,604.0 358.4,603.9 359.4,603.9 360.4,603.3 361.3,603.5 362.3,604.1 363.3,603.4 364.3,603.8 365.2,603.3 366.2,604.2 367.2,603.5 368.2,603.7 369.1,603.8 370.1,604.0 371.1,604.2 372.1,604.0 373.0,603.6 374.0,603.4 375.0,604.0 376.0,604.2 376.9,603.3 377.9,604.0 378.9,603.5 379.9,603.7 380.8,603.8 381.8,603.9 382.8,604.2 383.8,604.0 384.7,603.7 385.7,604.0 386.7,603.8 387.7,603.7 388.6,603.7 389.6,603.8 390.6,603.6 391.6,603.6 392.5,603.5 393.5,603.7 394.5,603.6 395.5,604.1 396.4,604.1 397.4,603.7 398.4,603.9 399.4,604.2 400.3,603.7 401.3,603.9 402.3,603.8 403.3,604.0 404.2,604.2 405.2,603.5 406.2,604.2 407.2,604.0 408.1,604.1 409.1,603.9 410.1,604.2 411.1,603.7 412.0,604.0 413.0,603.6 414.0,603.8 415.0,604.0 415.9,603.6 416.9,603.4 417.9,604.1 418.9,604.1 419.8,604.0 420.8,603.7 421.8,604.0 422.8,603.5 423.7,604.0 424.7,603.9 425.7,604.0 426.7,603.8 427.6,603.6 428.6,604.1 429.6,603.8 430.6,604.1 431.5,603.7 432.5,603.5 433.5,603.9 434.5,604.0 435.4,604.2 436.4,604.2 437.4,603.5 438.4,604.1 439.3,603.7 440.3,604.1 441.3,603.8 442.3,603.7 443.2,603.9 444.2,603.9 445.2,604.1 446.2,604.0 447.1,604.0 448.1,603.8 449.1,604.0 450.1,603.8 451.0,604.0 452.0,603.9 453.0,604.0 454.0,603.5 454.9,603.9 455.9,603.6 456.9,603.8 457.9,603.5 458.8,604.0 459.8,604.3 460.8,603.8 461.8,603.6 462.7,604.0 463.7,603.6 464.7,604.3 465.7,603.6 466.6,603.8 467.6,603.9 468.6,603.6 469.6,603.8 470.5,603.7 471.5,604.1 472.5,604.4 473.5,603.8 474.4,604.2 475.4,603.6 476.4,604.0 477.4,603.9 478.3,603.7 479.3,604.2 480.3,604.2 481.3,603.6 482.2,603.8 483.2,604.2 484.2,604.4 485.2,604.0 486.1,604.3 487.1,604.4 488.1,604.2 489.1,604.1 490.0,603.7 491.0,603.8 492.0,604.1 493.0,604.3 493.9,603.8 494.9,603.9 495.9,603.5 496.9,604.1 497.8,603.9 498.8,604.2 499.8,603.7 500.8,604.1 501.7,604.1 502.7,603.9 503.7,603.7 504.7,603.9 505.6,604.2 506.6,603.7 507.6,603.6 508.6,603.9 509.5,603.7 510.5,604.3 511.5,604.3 512.5,604.4 513.4,604.3 514.4,604.1 515.4,603.7 516.4,604.3 517.3,604.2 518.3,604.2 519.3,604.2 520.3,604.3 521.2,603.8 522.2,604.2 523.2,604.0 524.2,603.9 525.1,603.9 526.1,603.7 527.1,604.0 528.1,603.9 529.0,603.9 530.0,604.3 531.0,604.2 532.0,604.2 532.9,604.5 533.9,603.8 534.9,604.0 535.9,603.7 536.8,603.9 537.8,604.4 538.8,603.7 539.8,604.3 540.7,604.4 541.7,604.0 542.7,604.3 543.7,604.0 544.6,603.9 545.6,604.0 546.6,603.8 547.6,603.9 548.5,603.9 549.5,604.5 550.5,603.9 551.5,603.8 552.4,604.4 553.4,603.7 554.4,604.5 555.4,604.4 556.3,604.2 557.3,604.0 558.3,603.8 559.3,603.7 560.2,603.7 561.2,603.9 562.2,604.0 563.2,604.4 564.1,604.1 565.1,604.5 566.1,604.3 567.1,603.8 568.0,604.1 569.0,603.8 570.0,603.7 571.0,604.5 571.9,603.9 572.9,603.8 573.9,603.7 574.9,604.2 575.8,604.1 576.8,603.7 577.8,604.3 578.8,603.9 579.7,604.3 580.7,604.1 581.7,604.1 582.7,604.1 583.6,604.3 584.6,604.5 585.6,604.4 586.6,603.7 586.8,604.1 586.8,610.0 586.6,610.4 585.6,610.1 584.6,610.3 583.6,610.4 582.7,610.1 581.7,610.2 580.7,610.0 579.7,609.6 578.8,609.9 577.8,609.7 576.8,609.7 575.8,610.0 574.9,609.7 573.9,609.9 572.9,609.8 571.9,609.9 571.0,610.3 570.0,610.3 569.0,610.2 568.0,609.7 567.1,609.6 566.1,610.1 565.1,610.2 564.1,609.6 563.2,609.9 562.2,610.0 561.2,609.7 560.2,610.1 559.3,609.6 558.3,609.6 557.3,610.3 556.3,609.9 555.4,610.2 554.4,610.1 553.4,609.8 552.4,610.0 551.5,610.1 550.5,609.6 549.5,610.2 548.5,610.2 547.6,610.0 546.6,609.9 545.6,609.7 544.6,609.6 543.7,610.1 542.7,609.6 541.7,610.2 540.7,609.8 539.8,609.6 538.8,609.4 537.8,610.1 536.8,609.8 535.9,609.6 534.9,610.0 533.9,609.8 532.9,610.0 532.0,609.4 531.0,610.2 530.0,610.0 529.0,610.1 528.1,610.2 527.1,609.8 526.1,609.8 525.1,609.7 524.2,609.9 523.2,609.9 522.2,610.1 521.2,610.0 520.3,609.8 519.3,609.4 518.3,610.1 517.3,609.9 516.4,610.0 515.4,610.0 514.4,609.5 513.4,609.7 512.5,610.1 511.5,609.4 510.5,609.9 509.5,609.7 508.6,609.5 507.6,610.1 506.6,609.8 505.6,609.6 504.7,609.8 503.7,609.7 502.7,609.9 501.7,609.6 500.8,609.5 499.8,609.7 498.8,609.6 497.8,609.9 496.9,609.3 495.9,609.5 494.9,609.4 493.9,609.2 493.0,609.5 492.0,609.6 491.0,609.5 490.0,610.0 489.1,609.9 488.1,609.4 487.1,610.0 486.1,609.8 485.2,609.9 484.2,609.2 483.2,609.7 482.2,609.9 481.3,609.8 480.3,609.6 479.3,609.9 478.3,609.3 477.4,609.6 476.4,610.0 475.4,609.2 474.4,610.0 473.5,610.0 472.5,609.2 471.5,609.6 470.5,609.7 469.6,609.6 468.6,609.4 467.6,609.7 466.6,609.8 465.7,609.5 464.7,609.9 463.7,609.5 462.7,609.8 461.8,609.8 460.8,609.4 459.8,609.8 458.8,609.5 457.9,609.4 456.9,609.7 455.9,609.9 454.9,609.8 454.0,609.3 453.0,609.3 452.0,609.9 451.0,609.1 450.1,609.8 449.1,609.7 448.1,609.4 447.1,609.1 446.2,609.2 445.2,609.5 444.2,609.3 443.2,609.9 442.3,609.7 441.3,609.9 440.3,609.8 439.3,609.7 438.4,609.7 437.4,609.1 436.4,609.7 435.4,609.3 434.5,609.9 433.5,609.5 432.5,609.3 431.5,609.9 430.6,609.3 429.6,609.2 428.6,609.4 427.6,609.6 426.7,609.3 425.7,609.8 424.7,609.8 423.7,609.1 422.8,609.2 421.8,609.2 420.8,609.3 419.8,609.2 418.9,609.6 417.9,609.4 416.9,609.5 415.9,609.1 415.0,609.7 414.0,609.8 413.0,609.0 412.0,609.7 411.1,609.2 410.1,608.9 409.1,609.8 408.1,609.3 407.2,609.1 406.2,609.8 405.2,609.2 404.2,608.9 403.3,609.1 402.3,609.2 401.3,609.7 400.3,609.2 399.4,609.4 398.4,609.1 397.4,609.5 396.4,609.6 395.5,608.9 394.5,609.2 393.5,609.7 392.5,609.7 391.6,609.2 390.6,609.4 389.6,609.7 388.6,609.6 387.7,609.1 386.7,609.5 385.7,609.6 384.7,609.2 383.8,609.4 382.8,609.6 381.8,608.9 380.8,609.3 379.9,608.8 378.9,609.0 377.9,609.1 376.9,608.8 376.0,609.7 375.0,608.8 374.0,609.2 373.0,608.8 372.1,609.0 371.1,609.5 370.1,609.6 369.1,609.6 368.2,609.6 367.2,609.1 366.2,608.9 365.2,609.6 364.3,608.8 363.3,609.3 362.3,609.1 361.3,609.6 360.4,609.0 359.4,609.3 358.4,609.3 357.4,608.9 356.5,608.8 355.5,609.6 354.5,608.9 353.5,609.1 352.6,609.1 351.6,609.1 350.6,609.5 349.6,609.6 348.7,609.3 347.7,609.1 346.7,609.0 345.7,608.9 344.8,609.0 343.8,609.2 342.8,608.9 341.8,608.8 340.9,609.4 339.9,608.9 338.9,608.9 337.9,608.9 337.0,608.8 336.0,609.0 335.0,609.1 334.0,609.1 333.1,609.1 332.1,609.1 331.1,609.3 330.1,609.1 329.2,609.1 328.2,609.1 327.2,608.7 326.2,608.8 325.3,609.4 324.3,609.3 323.3,608.8 322.3,609.4 321.4,608.7 320.4,609.2 319.4,608.8 318.4,609.3 317.5,608.7 316.5,609.2 315.5,609.0 314.5,608.6 313.6,608.8 312.6,609.5 311.6,608.8 310.6,608.8 309.7,608.6 308.7,609.3 307.7,609.0 306.7,608.9 305.8,609.2 304.8,609.0 303.8,608.7 302.8,608.5 301.9,609.1 300.9,609.2 299.9,609.2 298.9,609.1 298.0,608.7 297.0,608.8 296.0,608.9 295.0,608.7 294.1,609.3 293.1,609.3 292.1,608.5 291.1,608.8 290.2,609.0 289.2,608.7 288.2,609.4 287.2,608.5 286.3,608.7 285.3,608.9 284.3,608.5 283.3,608.9 282.4,609.2 281.4,608.8 280.4,608.7 279.4,608.7 278.5,608.9 277.5,608.9 276.5,608.8 275.5,608.7 274.6,608.9 273.6,609.3 272.6,608.5 271.6,609.1 270.7,609.1 269.7,609.0 268.7,608.6 267.7,609.0 266.8,608.9 265.8,609.0 264.8,608.7 263.8,608.9 262.9,608.5 261.9,608.8 260.9,608.6 259.9,608.6 259.0,608.4 258.0,609.1 257.0,608.9 256.0,608.5 255.1,609.1 254.1,609.0 253.1,608.9 252.1,608.4 251.2,608.7 250.2,608.4 249.2,608.6 248.2,608.6 247.3,609.0 246.3,608.5 245.3,609.0 244.3,608.9 243.4,609.0 242.4,609.1 241.4,609.0 240.4,608.9 239.5,608.7 238.5,608.8 237.5,609.0 236.5,608.5 235.6,608.7 234.6,608.8 233.6,608.6 232.6,608.6 231.7,608.6 230.7,608.5 229.7,608.7 228.7,608.6 227.8,608.3 226.8,608.6 225.8,608.6 224.8,608.4 223.9,608.4 222.9,608.7 221.9,608.9 220.9,609.0 220.0,608.4 219.0,608.7 218.0,608.8 217.0,609.0 216.1,609.0 215.1,608.4 214.1,608.2 213.1,608.9 212.2,608.5 211.2,608.5 210.2,608.3 209.2,608.5 208.3,609.0 207.3,608.2 206.3,608.5 205.3,608.4 204.4,608.8 203.4,608.9 202.4,609.1 201.4,609.0 200.5,609.1 199.5,608.6 198.5,608.5 197.5,608.3 196.6,608.3 195.6,609.0 194.6,608.9 193.6,608.5 192.7,608.7 191.7,608.5 190.7,608.7 189.7,609.0 188.8,608.7 187.8,609.0 186.8,609.0 185.8,609.1 184.9,608.9 183.9,608.6 182.9,609.2 181.9,608.4 181.0,608.7 180.0,609.2 179.2,609.3 178.4,608.7 177.7,609.1 176.9,608.9 176.1,609.1 175.3,609.2 174.5,609.5 173.8,609.0 173.0,609.0 172.2,609.8 171.4,609.5 170.6,609.5 169.9,609.7 169.1,609.7 168.3,609.8 167.5,609.8 166.7,610.1 166.0,610.2 165.2,610.8 164.4,611.2 163.6,611.2 162.8,611.9 162.1,611.5 161.3,612.0 160.5,612.6 159.7,612.9 158.9,613.1 158.2,613.3 157.4,614.2 156.6,614.9 155.8,615.0 155.0,615.4 154.3,616.9 153.5,617.3 152.7,618.3 151.9,618.6 151.1,619.5 150.4,620.7 149.6,622.1 148.8,623.9 148.0,625.2 147.2,626.5 146.5,628.3 145.7,630.5 144.9,632.8 144.1,634.8 143.3,636.5 142.6,638.4 141.8,641.0 141.0,643.4 140.2,645.3 139.4,647.0 138.7,649.1 137.9,651.1 137.1,653.2 136.3,655.8 135.5,657.8 134.8,660.0 134.0,661.9 133.2,663.8 132.4,665.8 131.6,668.5 130.9,670.3 130.1,672.3 129.3,674.5 128.5,676.6 127.7,678.6 127.0,681.1 126.2,683.3 125.4,685.3 124.6,687.6 123.8,689.1 123.1,691.1 122.3,693.1 121.5,695.4" fill="#44bf70" stroke="#44bf70" stroke-width="3.5" stroke-linejoin="round"/>
<path d="M223.7 606.1V611.4" stroke="#44bf70" stroke-width="3" stroke-linecap="round" fill="none"/>
<path d="M306.8 606.3V613.1" stroke="#44bf70" stroke-width="3" stroke-linecap="round" fill="none"/>
<path d="M331.7 606.4V612.7" stroke="#44bf70" stroke-width="3" stroke-linecap="round" fill="none"/>
<rect x="585" y="602.4" width="3.7" height="9.3" fill="#44bf70"/>
<polygon points="121.5,694.0 122.3,692.5 123.1,691.6 123.8,690.9 124.6,689.5 125.4,688.4 126.2,687.5 127.0,686.0 127.7,685.4 128.5,683.6 129.3,682.7 130.1,681.6 130.9,680.6 131.6,680.1 132.4,678.2 133.2,677.4 134.0,676.5 134.8,675.6 135.5,674.6 136.3,673.1 137.1,671.9 137.9,671.3 138.7,669.6 139.4,668.4 140.2,667.6 141.0,666.9 141.8,666.4 142.6,665.4 143.3,664.5 144.1,663.8 144.9,663.4 145.7,662.7 146.5,662.0 147.2,661.3 148.0,660.9 148.8,661.0 149.6,660.5 150.4,660.3 151.1,659.3 151.9,659.8 152.7,659.1 153.5,659.3 154.3,658.8 155.0,658.5 155.8,658.5 156.6,658.2 157.4,658.1 158.2,657.4 158.9,657.7 159.7,657.3 160.5,656.9 161.3,656.9 162.1,657.1 162.8,656.7 163.6,657.1 164.4,656.4 165.2,656.3 166.0,657.1 166.7,656.4 167.5,656.6 168.3,656.2 169.1,656.2 169.9,656.3 170.6,656.7 171.4,655.9 172.2,656.6 173.0,656.8 173.8,656.4 174.5,656.2 175.3,656.1 176.1,656.0 176.9,656.2 177.7,656.6 178.4,655.9 179.2,656.6 180.0,656.5 181.0,655.9 181.9,656.0 182.9,656.6 183.9,656.5 184.9,656.2 185.8,656.7 186.8,656.2 187.8,656.4 188.8,656.1 189.7,656.6 190.7,656.1 191.7,656.2 192.7,656.8 193.6,656.5 194.6,656.7 195.6,656.8 196.6,656.7 197.5,656.3 198.5,656.8 199.5,656.3 200.5,656.5 201.4,656.6 202.4,656.4 203.4,656.4 204.4,656.9 205.3,657.0 206.3,656.7 207.3,656.7 208.3,656.6 209.2,656.9 210.2,657.0 211.2,657.3 212.2,656.5 213.1,657.3 214.1,657.4 215.1,656.8 216.1,657.2 217.0,657.3 218.0,657.2 219.0,656.9 220.0,657.2 220.9,657.5 221.9,656.8 222.9,657.1 223.9,656.8 224.8,657.5 225.8,657.5 226.8,656.8 227.8,657.5 228.7,657.5 229.7,657.0 230.7,657.4 231.7,657.5 232.6,657.2 233.6,657.4 234.6,657.8 235.6,657.6 236.5,657.5 237.5,657.1 238.5,657.2 239.5,657.8 240.4,657.8 241.4,657.9 242.4,657.7 243.4,657.7 244.3,657.7 245.3,657.9 246.3,657.5 247.3,657.7 248.2,657.7 249.2,657.9 250.2,657.5 251.2,657.4 252.1,657.4 253.1,657.5 254.1,658.2 255.1,658.1 256.0,658.1 257.0,657.9 258.0,657.6 259.0,657.9 259.9,658.3 260.9,658.0 261.9,658.1 262.9,657.9 263.8,657.8 264.8,658.2 265.8,658.1 266.8,658.0 267.7,657.9 268.7,658.4 269.7,658.0 270.7,658.3 271.6,658.0 272.6,658.5 273.6,658.2 274.6,658.3 275.5,658.7 276.5,658.6 277.5,658.6 278.5,658.2 279.4,658.7 280.4,658.3 281.4,658.8 282.4,658.8 283.3,658.5 284.3,658.7 285.3,658.5 286.3,658.6 287.2,658.1 288.2,658.9 289.2,658.7 290.2,658.1 291.1,658.2 292.1,658.5 293.1,658.7 294.1,658.1 295.0,658.9 296.0,658.3 297.0,658.9 298.0,658.7 298.9,658.5 299.9,658.4 300.9,658.1 301.9,658.1 302.8,658.6 303.8,658.7 304.8,658.9 305.8,658.4 306.7,658.9 307.7,658.3 308.7,658.9 309.7,658.9 310.6,658.2 311.6,658.9 312.6,658.7 313.6,658.7 314.5,658.9 315.5,658.6 316.5,658.6 317.5,658.4 318.4,658.9 319.4,658.9 320.4,658.3 321.4,658.8 322.3,658.4 323.3,658.3 324.3,658.3 325.3,658.7 326.2,658.4 327.2,658.4 328.2,658.2 329.2,658.5 330.1,658.9 331.1,658.2 332.1,658.6 333.1,658.7 334.0,658.2 335.0,658.5 336.0,659.0 337.0,659.1 337.9,659.0 338.9,658.4 339.9,658.9 340.9,658.6 341.8,658.4 342.8,658.7 343.8,659.1 344.8,659.0 345.7,658.6 346.7,658.3 347.7,659.1 348.7,659.1 349.6,658.7 350.6,658.5 351.6,658.8 352.6,658.9 353.5,658.7 354.5,658.6 355.5,658.5 356.5,658.6 357.4,658.3 358.4,658.5 359.4,659.2 360.4,658.3 361.3,659.0 362.3,659.0 363.3,658.7 364.3,658.9 365.2,658.5 366.2,658.9 367.2,659.0 368.2,659.0 369.1,658.8 370.1,659.2 371.1,659.1 372.1,658.9 373.0,659.0 374.0,658.6 375.0,659.2 376.0,659.0 376.9,659.2 377.9,658.6 378.9,659.3 379.9,658.5 380.8,658.9 381.8,658.5 382.8,658.6 383.8,659.1 384.7,658.5 385.7,658.8 386.7,658.6 387.7,659.2 388.6,658.5 389.6,658.7 390.6,659.2 391.6,659.1 392.5,659.1 393.5,659.3 394.5,658.5 395.5,659.1 396.4,659.1 397.4,659.1 398.4,659.1 399.4,658.5 400.3,658.6 401.3,659.2 402.3,659.0 403.3,658.7 404.2,658.5 405.2,659.0 406.2,658.6 407.2,659.2 408.1,658.8 409.1,659.2 410.1,658.6 411.1,659.0 412.0,658.6 413.0,659.2 414.0,659.0 415.0,658.8 415.9,659.4 416.9,659.2 417.9,658.9 418.9,659.3 419.8,658.9 420.8,659.4 421.8,658.8 422.8,659.5 423.7,658.6 424.7,659.3 425.7,658.9 426.7,659.0 427.6,659.2 428.6,658.6 429.6,658.8 430.6,658.7 431.5,659.3 432.5,658.8 433.5,659.1 434.5,658.9 435.4,658.9 436.4,659.5 437.4,659.1 438.4,659.2 439.3,659.3 440.3,659.4 441.3,658.9 442.3,658.7 443.2,659.1 444.2,658.8 445.2,658.7 446.2,659.5 447.1,659.3 448.1,659.1 449.1,658.8 450.1,659.4 451.0,659.2 452.0,658.9 453.0,659.6 454.0,659.6 454.9,659.6 455.9,659.5 456.9,659.2 457.9,659.0 458.8,659.3 459.8,658.9 460.8,659.3 461.8,658.8 462.7,658.8 463.7,659.4 464.7,659.1 465.7,659.4 466.6,659.5 467.6,659.5 468.6,659.3 469.6,659.6 470.5,659.4 471.5,659.6 472.5,659.6 473.5,658.8 474.4,659.1 475.4,659.2 476.4,659.0 477.4,659.0 478.3,659.6 479.3,658.9 480.3,659.0 481.3,659.5 482.2,659.0 483.2,659.1 484.2,659.7 485.2,659.5 486.1,659.3 487.1,659.0 488.1,659.1 489.1,659.8 490.0,659.6 491.0,659.0 492.0,659.5 493.0,659.2 493.9,659.5 494.9,659.2 495.9,659.0 496.9,658.9 497.8,659.2 498.8,659.7 499.8,659.7 500.8,659.5 501.7,659.6 502.7,659.1 503.7,659.3 504.7,659.8 505.6,659.8 506.6,659.4 507.6,659.7 508.6,659.8 509.5,659.9 510.5,659.2 511.5,659.6 512.5,659.3 513.4,659.4 514.4,659.4 515.4,659.2 516.4,659.0 517.3,659.7 518.3,659.6 519.3,659.8 520.3,659.2 521.2,659.2 522.2,659.6 523.2,659.9 524.2,659.5 525.1,659.2 526.1,659.6 527.1,659.9 528.1,659.8 529.0,659.9 530.0,659.4 531.0,659.3 532.0,659.9 532.9,659.8 533.9,659.8 534.9,659.4 535.9,659.3 536.8,659.3 537.8,659.9 538.8,659.9 539.8,659.4 540.7,659.9 541.7,659.5 542.7,659.5 543.7,659.6 544.6,659.3 545.6,659.4 546.6,659.4 547.6,659.4 548.5,659.6 549.5,659.2 550.5,659.9 551.5,659.3 552.4,659.6 553.4,659.7 554.4,659.3 555.4,659.5 556.3,659.7 557.3,659.7 558.3,660.0 559.3,659.9 560.2,659.3 561.2,660.0 562.2,659.7 563.2,659.8 564.1,659.4 565.1,659.6 566.1,659.9 567.1,659.9 568.0,660.0 569.0,659.4 570.0,660.0 571.0,659.8 571.9,659.9 572.9,660.0 573.9,659.6 574.9,660.1 575.8,660.1 576.8,660.0 577.8,659.6 578.8,659.8 579.7,659.4 580.7,660.0 581.7,660.1 582.7,659.4 583.6,660.0 584.6,659.9 585.6,659.3 586.6,660.1 586.8,659.7 586.8,663.2 586.6,662.7 585.6,662.7 584.6,662.6 583.6,662.8 582.7,663.3 581.7,662.5 580.7,663.3 579.7,663.0 578.8,663.0 577.8,662.8 576.8,663.0 575.8,662.4 574.9,663.0 573.9,663.2 572.9,662.4 571.9,662.8 571.0,662.7 570.0,662.6 569.0,662.8 568.0,662.3 567.1,662.3 566.1,663.0 565.1,662.7 564.1,662.8 563.2,662.9 562.2,663.1 561.2,662.3 560.2,663.0 559.3,662.4 558.3,662.7 557.3,662.9 556.3,662.6 555.4,662.3 554.4,662.4 553.4,662.5 552.4,662.6 551.5,662.7 550.5,662.7 549.5,662.7 548.5,662.8 547.6,663.0 546.6,662.9 545.6,663.1 544.6,662.6 543.7,662.3 542.7,662.9 541.7,662.5 540.7,662.2 539.8,662.2 538.8,662.5 537.8,662.3 536.8,662.5 535.9,662.8 534.9,662.5 533.9,662.7 532.9,662.8 532.0,662.2 531.0,662.8 530.0,662.4 529.0,662.4 528.1,662.7 527.1,663.0 526.1,662.4 525.1,662.4 524.2,662.1 523.2,662.5 522.2,662.8 521.2,662.8 520.3,662.5 519.3,662.4 518.3,662.1 517.3,662.7 516.4,662.3 515.4,662.8 514.4,662.2 513.4,662.6 512.5,662.8 511.5,662.0 510.5,662.7 509.5,662.6 508.6,662.1 507.6,662.3 506.6,662.0 505.6,662.7 504.7,662.2 503.7,662.2 502.7,662.0 501.7,662.5 500.8,662.4 499.8,662.1 498.8,662.3 497.8,662.5 496.9,662.1 495.9,662.1 494.9,662.4 493.9,662.1 493.0,661.9 492.0,662.4 491.0,662.6 490.0,662.2 489.1,662.1 488.1,662.6 487.1,662.0 486.1,662.2 485.2,661.9 484.2,662.2 483.2,662.0 482.2,661.8 481.3,662.3 480.3,662.1 479.3,662.5 478.3,662.2 477.4,661.9 476.4,662.5 475.4,662.6 474.4,662.6 473.5,662.6 472.5,662.3 471.5,662.3 470.5,662.3 469.6,662.2 468.6,662.4 467.6,662.4 466.6,662.0 465.7,662.1 464.7,662.2 463.7,661.8 462.7,661.9 461.8,662.6 460.8,662.5 459.8,662.2 458.8,661.9 457.9,661.7 456.9,662.1 455.9,661.7 454.9,662.2 454.0,662.0 453.0,662.0 452.0,662.3 451.0,662.2 450.1,662.0 449.1,662.4 448.1,661.9 447.1,662.4 446.2,662.2 445.2,662.2 444.2,662.0 443.2,662.1 442.3,661.7 441.3,661.8 440.3,661.8 439.3,661.8 438.4,661.9 437.4,661.9 436.4,662.0 435.4,661.6 434.5,662.4 433.5,662.0 432.5,661.6 431.5,661.5 430.6,662.2 429.6,662.4 428.6,662.3 427.6,662.2 426.7,661.9 425.7,661.8 424.7,662.0 423.7,661.5 422.8,661.5 421.8,662.2 420.8,662.0 419.8,661.6 418.9,661.5 417.9,661.5 416.9,661.8 415.9,662.2 415.0,661.7 414.0,662.0 413.0,662.1 412.0,661.5 411.1,661.9 410.1,662.2 409.1,662.1 408.1,661.7 407.2,662.1 406.2,661.6 405.2,661.5 404.2,662.0 403.3,661.8 402.3,661.9 401.3,661.8 400.3,661.8 399.4,661.9 398.4,662.1 397.4,661.8 396.4,662.1 395.5,661.7 394.5,661.6 393.5,661.6 392.5,661.8 391.6,661.9 390.6,661.4 389.6,661.5 388.6,661.8 387.7,662.0 386.7,661.3 385.7,661.8 384.7,661.4 383.8,661.4 382.8,661.5 381.8,661.8 380.8,661.3 379.9,662.0 378.9,661.2 377.9,661.2 376.9,661.3 376.0,662.0 375.0,661.9 374.0,661.3 373.0,661.5 372.1,661.3 371.1,661.4 370.1,661.4 369.1,661.5 368.2,661.9 367.2,661.5 366.2,661.9 365.2,661.5 364.3,661.4 363.3,661.9 362.3,661.7 361.3,661.8 360.4,661.1 359.4,661.6 358.4,661.5 357.4,661.1 356.5,661.8 355.5,661.7 354.5,661.5 353.5,661.8 352.6,661.6 351.6,661.9 350.6,661.6 349.6,661.8 348.7,661.4 347.7,661.6 346.7,661.7 345.7,661.2 344.8,661.4 343.8,661.6 342.8,661.7 341.8,661.4 340.9,661.2 339.9,661.4 338.9,661.1 337.9,661.6 337.0,661.1 336.0,661.0 335.0,661.6 334.0,661.4 333.1,661.5 332.1,661.6 331.1,661.5 330.1,661.5 329.2,661.5 328.2,661.0 327.2,661.0 326.2,661.5 325.3,661.2 324.3,661.1 323.3,661.0 322.3,661.0 321.4,660.9 320.4,661.3 319.4,660.9 318.4,661.4 317.5,661.1 316.5,661.6 315.5,661.7 314.5,661.6 313.6,661.3 312.6,661.3 311.6,661.0 310.6,661.0 309.7,661.5 308.7,661.7 307.7,661.6 306.7,660.9 305.8,661.2 304.8,661.6 303.8,660.8 302.8,661.0 301.9,661.1 300.9,660.9 299.9,661.3 298.9,661.5 298.0,661.2 297.0,660.8 296.0,661.0 295.0,661.5 294.1,660.7 293.1,660.8 292.1,661.0 291.1,661.5 290.2,661.1 289.2,661.0 288.2,661.0 287.2,661.3 286.3,661.1 285.3,661.3 284.3,660.7 283.3,661.5 282.4,660.9 281.4,660.6 280.4,661.0 279.4,661.1 278.5,661.0 277.5,661.0 276.5,660.9 275.5,660.7 274.6,660.5 273.6,660.7 272.6,660.9 271.6,661.3 270.7,660.7 269.7,661.3 268.7,660.6 267.7,660.4 266.8,660.9 265.8,660.9 264.8,660.7 263.8,661.0 262.9,660.8 261.9,660.4 260.9,660.2 259.9,660.2 259.0,660.9 258.0,660.5 257.0,660.6 256.0,660.3 255.1,660.3 254.1,660.4 253.1,660.9 252.1,660.2 251.2,660.8 250.2,660.4 249.2,660.3 248.2,660.7 247.3,659.9 246.3,660.0 245.3,660.7 244.3,660.2 243.4,660.6 242.4,660.1 241.4,659.8 240.4,660.6 239.5,660.4 238.5,660.4 237.5,660.2 236.5,660.5 235.6,660.0 234.6,659.9 233.6,660.2 232.6,659.6 231.7,659.6 230.7,659.7 229.7,659.8 228.7,659.8 227.8,659.7 226.8,660.0 225.8,659.6 224.8,659.4 223.9,659.8 222.9,660.1 221.9,659.8 220.9,659.9 220.0,660.0 219.0,659.9 218.0,659.6 217.0,659.9 216.1,660.0 215.1,659.6 214.1,659.5 213.1,659.5 212.2,659.3 211.2,659.6 210.2,659.2 209.2,659.5 208.3,659.8 207.3,659.6 206.3,659.6 205.3,659.7 204.4,659.0 203.4,659.1 202.4,659.4 201.4,659.4 200.5,659.5 199.5,658.9 198.5,659.1 197.5,658.9 196.6,659.4 195.6,658.9 194.6,659.2 193.6,658.8 192.7,659.5 191.7,658.7 190.7,659.0 189.7,659.3 188.8,659.4 187.8,659.3 186.8,659.3 185.8,659.0 184.9,658.9 183.9,658.7 182.9,658.5 181.9,658.6 181.0,659.2 180.0,658.6 179.2,658.4 178.4,658.6 177.7,658.9 176.9,659.0 176.1,659.0 175.3,658.6 174.5,659.0 173.8,658.8 173.0,659.0 172.2,659.2 171.4,659.2 170.6,658.5 169.9,659.3 169.1,659.1 168.3,659.4 167.5,659.2 166.7,658.8 166.0,658.7 165.2,659.4 164.4,659.4 163.6,659.7 162.8,659.3 162.1,659.7 161.3,659.6 160.5,659.3 159.7,659.8 158.9,659.4 158.2,659.9 157.4,659.8 156.6,659.8 155.8,660.5 155.0,660.4 154.3,660.7 153.5,660.7 152.7,661.1 151.9,661.5 151.1,660.8 150.4,661.3 149.6,662.2 148.8,662.5 148.0,662.4 147.2,662.7 146.5,663.4 145.7,663.9 144.9,664.4 144.1,665.1 143.3,665.6 142.6,666.0 141.8,666.8 141.0,667.3 140.2,668.6 139.4,669.5 138.7,670.3 137.9,671.6 137.1,672.5 136.3,673.7 135.5,674.9 134.8,676.1 134.0,677.3 133.2,678.2 132.4,679.5 131.6,680.5 130.9,680.9 130.1,682.1 129.3,683.6 128.5,684.7 127.7,685.9 127.0,686.6 126.2,687.9 125.4,688.6 124.6,689.9 123.8,690.9 123.1,692.3 122.3,692.7 121.5,694.0" fill="#22a884" stroke="#22a884" stroke-width="3.5" stroke-linejoin="round"/>
<rect x="585" y="658.0" width="3.7" height="7.0" fill="#22a884"/>
<polygon points="121.5,693.1 122.3,692.3 123.1,692.4 123.8,691.7 124.6,691.6 125.4,690.4 126.2,690.7 127.0,690.3 127.7,689.0 128.5,689.0 129.3,688.2 130.1,688.1 130.9,687.3 131.6,687.5 132.4,686.4 133.2,686.4 134.0,685.9 134.8,685.1 135.5,684.5 136.3,684.6 137.1,683.3 137.9,683.0 138.7,682.6 139.4,682.3 140.2,681.7 141.0,681.0 141.8,681.1 142.6,680.8 143.3,680.5 144.1,680.0 144.9,679.6 145.7,679.1 146.5,679.3 147.2,679.2 148.0,678.8 148.8,679.1 149.6,678.2 150.4,678.6 151.1,678.4 151.9,678.4 152.7,678.3 153.5,677.6 154.3,678.1 155.0,677.5 155.8,677.6 156.6,677.8 157.4,677.4 158.2,677.4 158.9,676.9 159.7,677.3 160.5,677.0 161.3,677.1 162.1,677.0 162.8,677.5 163.6,677.2 164.4,677.3 165.2,676.8 166.0,676.9 166.7,677.4 167.5,676.7 168.3,677.4 169.1,676.9 169.9,676.9 170.6,677.0 171.4,676.9 172.2,676.9 173.0,676.9 173.8,677.1 174.5,676.7 175.3,676.6 176.1,676.9 176.9,676.6 177.7,676.9 178.4,676.9 179.2,677.2 180.0,676.6 181.0,676.8 181.9,677.2 182.9,676.8 183.9,677.2 184.9,677.1 185.8,676.5 186.8,676.8 187.8,677.1 188.8,676.9 189.7,677.1 190.7,677.3 191.7,677.1 192.7,676.9 193.6,677.2 194.6,676.8 195.6,676.5 196.6,676.7 197.5,677.0 198.5,677.3 199.5,677.0 200.5,676.7 201.4,677.3 202.4,676.8 203.4,676.7 204.4,677.0 205.3,676.8 206.3,676.6 207.3,677.1 208.3,677.1 209.2,677.3 210.2,676.6 211.2,677.3 212.2,677.2 213.1,676.7 214.1,676.9 215.1,677.0 216.1,676.7 217.0,676.6 218.0,677.2 219.0,676.6 220.0,676.9 220.9,676.9 221.9,677.3 222.9,677.0 223.9,676.8 224.8,677.3 225.8,676.8 226.8,677.1 227.8,676.7 228.7,677.1 229.7,677.1 230.7,677.2 231.7,676.9 232.6,676.7 233.6,677.0 234.6,677.3 235.6,676.7 236.5,676.5 237.5,676.6 238.5,677.3 239.5,676.5 240.4,676.5 241.4,676.6 242.4,677.3 243.4,676.8 244.3,677.1 245.3,677.1 246.3,676.9 247.3,677.1 248.2,676.9 249.2,677.0 250.2,676.7 251.2,676.5 252.1,677.0 253.1,676.7 254.1,676.7 255.1,677.3 256.0,676.8 257.0,676.6 258.0,677.0 259.0,677.0 259.9,676.5 260.9,676.8 261.9,677.0 262.9,676.7 263.8,677.4 264.8,677.2 265.8,676.9 266.8,677.3 267.7,676.5 268.7,676.7 269.7,677.3 270.7,676.9 271.6,676.6 272.6,677.0 273.6,677.1 274.6,677.0 275.5,676.5 276.5,676.5 277.5,676.8 278.5,676.5 279.4,676.6 280.4,677.1 281.4,676.9 282.4,676.6 283.3,677.3 284.3,676.8 285.3,677.3 286.3,677.0 287.2,677.0 288.2,676.9 289.2,677.1 290.2,676.7 291.1,676.7 292.1,677.3 293.1,676.7 294.1,676.8 295.0,677.2 296.0,676.8 297.0,676.8 298.0,677.3 298.9,676.7 299.9,676.7 300.9,677.3 301.9,676.7 302.8,676.8 303.8,677.3 304.8,676.8 305.8,677.4 306.7,677.2 307.7,677.3 308.7,676.7 309.7,676.7 310.6,677.2 311.6,677.2 312.6,676.7 313.6,676.7 314.5,676.7 315.5,676.6 316.5,676.9 317.5,676.9 318.4,677.1 319.4,676.5 320.4,676.7 321.4,676.6 322.3,676.7 323.3,676.7 324.3,677.3 325.3,676.8 326.2,676.6 327.2,677.1 328.2,677.4 329.2,677.2 330.1,677.1 331.1,676.8 332.1,676.9 333.1,676.8 334.0,677.2 335.0,677.2 336.0,676.9 337.0,677.3 337.9,677.1 338.9,677.1 339.9,676.7 340.9,676.7 341.8,676.7 342.8,677.3 343.8,677.2 344.8,677.3 345.7,677.2 346.7,677.2 347.7,676.9 348.7,677.2 349.6,676.7 350.6,677.1 351.6,676.5 352.6,677.4 353.5,677.3 354.5,676.7 355.5,677.2 356.5,677.2 357.4,676.5 358.4,677.0 359.4,676.9 360.4,677.1 361.3,677.3 362.3,677.2 363.3,676.7 364.3,677.0 365.2,677.0 366.2,676.5 367.2,676.6 368.2,676.8 369.1,676.7 370.1,676.7 371.1,677.1 372.1,677.4 373.0,676.9 374.0,677.1 375.0,677.2 376.0,677.1 376.9,677.1 377.9,676.5 378.9,677.3 379.9,676.7 380.8,676.7 381.8,677.0 382.8,677.0 383.8,677.2 384.7,676.8 385.7,677.4 386.7,677.1 387.7,677.3 388.6,676.9 389.6,676.6 390.6,676.5 391.6,677.1 392.5,676.9 393.5,676.9 394.5,676.8 395.5,676.7 396.4,676.9 397.4,676.8 398.4,677.3 399.4,676.7 400.3,677.4 401.3,677.3 402.3,676.9 403.3,677.2 404.2,677.0 405.2,676.9 406.2,677.3 407.2,677.3 408.1,676.7 409.1,677.3 410.1,676.6 411.1,676.5 412.0,677.0 413.0,676.8 414.0,676.9 415.0,677.0 415.9,677.0 416.9,677.3 417.9,677.4 418.9,676.8 419.8,676.8 420.8,677.1 421.8,676.7 422.8,676.9 423.7,677.2 424.7,676.5 425.7,677.2 426.7,677.2 427.6,676.9 428.6,676.8 429.6,677.0 430.6,676.8 431.5,677.3 432.5,677.1 433.5,676.8 434.5,677.3 435.4,677.1 436.4,676.7 437.4,676.9 438.4,677.0 439.3,677.4 440.3,676.8 441.3,676.9 442.3,677.4 443.2,676.9 444.2,677.3 445.2,676.6 446.2,676.9 447.1,676.7 448.1,677.3 449.1,677.0 450.1,676.7 451.0,676.6 452.0,676.9 453.0,676.6 454.0,677.0 454.9,677.2 455.9,676.8 456.9,676.7 457.9,676.9 458.8,676.7 459.8,677.3 460.8,676.6 461.8,677.2 462.7,676.8 463.7,677.2 464.7,677.2 465.7,676.7 466.6,677.2 467.6,677.4 468.6,677.1 469.6,677.1 470.5,676.8 471.5,676.7 472.5,677.2 473.5,677.3 474.4,676.7 475.4,676.7 476.4,676.9 477.4,677.1 478.3,676.9 479.3,677.4 480.3,677.3 481.3,677.4 482.2,677.1 483.2,677.2 484.2,677.4 485.2,676.6 486.1,677.1 487.1,676.7 488.1,677.3 489.1,676.8 490.0,677.2 491.0,676.9 492.0,677.1 493.0,677.2 493.9,677.4 494.9,677.3 495.9,677.0 496.9,677.2 497.8,676.7 498.8,676.6 499.8,677.2 500.8,677.4 501.7,677.2 502.7,677.0 503.7,677.1 504.7,677.2 505.6,677.1 506.6,676.9 507.6,677.3 508.6,676.9 509.5,677.4 510.5,677.3 511.5,677.3 512.5,677.3 513.4,677.5 514.4,677.5 515.4,677.0 516.4,676.9 517.3,677.2 518.3,677.4 519.3,677.1 520.3,676.6 521.2,676.6 522.2,677.0 523.2,677.3 524.2,677.4 525.1,676.9 526.1,677.0 527.1,677.0 528.1,676.7 529.0,676.6 530.0,677.0 531.0,677.0 532.0,677.3 532.9,676.7 533.9,677.3 534.9,676.8 535.9,677.1 536.8,677.2 537.8,676.7 538.8,677.4 539.8,677.4 540.7,677.4 541.7,676.6 542.7,677.2 543.7,677.2 544.6,677.4 545.6,676.8 546.6,676.7 547.6,677.3 548.5,676.8 549.5,676.6 550.5,676.7 551.5,677.2 552.4,677.1 553.4,677.3 554.4,677.3 555.4,676.6 556.3,677.4 557.3,677.4 558.3,677.4 559.3,677.3 560.2,676.9 561.2,676.8 562.2,677.4 563.2,677.0 564.1,677.0 565.1,677.2 566.1,677.2 567.1,677.2 568.0,677.1 569.0,677.0 570.0,677.3 571.0,676.9 571.9,676.8 572.9,677.4 573.9,677.3 574.9,677.2 575.8,676.7 576.8,676.6 577.8,677.4 578.8,677.4 579.7,676.8 580.7,677.2 581.7,676.6 582.7,676.9 583.6,677.2 584.6,676.9 585.6,677.3 586.6,677.4 586.8,676.7 586.8,682.5 586.6,682.1 585.6,682.2 584.6,682.2 583.6,682.3 582.7,682.7 581.7,682.5 580.7,682.5 579.7,682.0 578.8,682.1 577.8,682.7 576.8,681.9 575.8,682.0 574.9,682.4 573.9,682.6 572.9,682.0 571.9,682.7 571.0,682.5 570.0,682.1 569.0,682.0 568.0,682.2 567.1,682.1 566.1,682.2 565.1,681.8 564.1,682.2 563.2,682.1 562.2,682.1 561.2,682.3 560.2,682.1 559.3,682.6 558.3,681.8 557.3,682.4 556.3,682.3 555.4,681.9 554.4,682.3 553.4,681.8 552.4,681.8 551.5,681.9 550.5,682.7 549.5,682.5 548.5,681.9 547.6,681.8 546.6,682.6 545.6,682.2 544.6,682.3 543.7,682.7 542.7,682.3 541.7,682.1 540.7,682.2 539.8,682.3 538.8,682.5 537.8,682.3 536.8,682.2 535.9,682.2 534.9,682.5 533.9,681.8 532.9,681.9 532.0,681.8 531.0,682.4 530.0,681.8 529.0,682.0 528.1,682.0 527.1,682.0 526.1,682.3 525.1,682.0 524.2,682.4 523.2,682.3 522.2,681.8 521.2,682.5 520.3,681.9 519.3,682.2 518.3,681.8 517.3,682.3 516.4,681.8 515.4,682.1 514.4,681.8 513.4,682.2 512.5,682.5 511.5,682.4 510.5,682.2 509.5,682.2 508.6,682.5 507.6,682.1 506.6,682.2 505.6,681.9 504.7,681.8 503.7,681.9 502.7,681.9 501.7,681.8 500.8,681.9 499.8,682.3 498.8,682.0 497.8,682.3 496.9,681.8 495.9,682.2 494.9,681.7 493.9,682.3 493.0,681.7 492.0,682.5 491.0,682.2 490.0,681.7 489.1,681.8 488.1,682.5 487.1,682.2 486.1,682.0 485.2,681.8 484.2,682.2 483.2,681.8 482.2,682.0 481.3,682.3 480.3,682.2 479.3,681.9 478.3,682.4 477.4,682.2 476.4,682.0 475.4,682.1 474.4,682.4 473.5,682.3 472.5,681.9 471.5,681.8 470.5,681.8 469.6,682.4 468.6,681.9 467.6,682.1 466.6,682.0 465.7,681.9 464.7,682.1 463.7,682.0 462.7,682.2 461.8,682.0 460.8,682.2 459.8,681.7 458.8,681.8 457.9,682.0 456.9,681.7 455.9,681.8 454.9,681.9 454.0,681.7 453.0,682.1 452.0,682.4 451.0,681.7 450.1,682.0 449.1,681.7 448.1,681.9 447.1,681.9 446.2,681.8 445.2,681.8 444.2,681.9 443.2,682.0 442.3,682.2 441.3,682.3 440.3,682.0 439.3,682.2 438.4,681.9 437.4,682.1 436.4,681.7 435.4,681.6 434.5,681.9 433.5,682.1 432.5,681.7 431.5,681.6 430.6,681.6 429.6,682.4 428.6,682.1 427.6,682.3 426.7,682.2 425.7,682.1 424.7,681.7 423.7,682.4 422.8,681.7 421.8,682.2 420.8,682.3 419.8,681.8 418.9,682.2 417.9,682.4 416.9,682.3 415.9,682.1 415.0,682.0 414.0,681.8 413.0,681.9 412.0,682.0 411.1,681.7 410.1,681.6 409.1,682.3 408.1,682.1 407.2,681.9 406.2,682.0 405.2,681.9 404.2,681.7 403.3,681.7 402.3,682.0 401.3,681.5 400.3,682.4 399.4,681.6 398.4,682.3 397.4,682.2 396.4,681.8 395.5,682.0 394.5,682.2 393.5,681.6 392.5,681.6 391.6,681.9 390.6,681.8 389.6,682.1 388.6,681.7 387.7,682.1 386.7,681.8 385.7,681.9 384.7,682.3 383.8,681.5 382.8,682.1 381.8,681.8 380.8,681.7 379.9,681.7 378.9,681.5 377.9,682.0 376.9,682.2 376.0,681.8 375.0,682.2 374.0,681.5 373.0,681.5 372.1,681.4 371.1,682.2 370.1,681.8 369.1,682.3 368.2,681.4 367.2,682.0 366.2,681.8 365.2,681.7 364.3,681.7 363.3,681.8 362.3,681.7 361.3,681.6 360.4,681.6 359.4,681.5 358.4,681.8 357.4,681.4 356.5,681.5 355.5,682.0 354.5,681.9 353.5,681.7 352.6,682.2 351.6,681.7 350.6,682.2 349.6,681.4 348.7,681.5 347.7,681.9 346.7,681.8 345.7,682.1 344.8,681.7 343.8,681.6 342.8,681.6 341.8,681.6 340.9,681.4 339.9,681.5 338.9,682.2 337.9,681.8 337.0,681.4 336.0,682.0 335.0,681.8 334.0,681.4 333.1,682.1 332.1,682.2 331.1,681.9 330.1,682.1 329.2,681.7 328.2,681.7 327.2,682.0 326.2,681.4 325.3,682.1 324.3,681.6 323.3,681.9 322.3,682.0 321.4,681.9 320.4,681.7 319.4,681.7 318.4,681.8 317.5,681.5 316.5,681.6 315.5,681.6 314.5,681.5 313.6,681.7 312.6,681.8 311.6,681.7 310.6,681.6 309.7,681.8 308.7,681.7 307.7,681.6 306.7,681.4 305.8,682.1 304.8,681.3 303.8,681.8 302.8,682.1 301.9,681.8 300.9,681.5 299.9,681.8 298.9,681.5 298.0,681.4 297.0,681.5 296.0,681.4 295.0,681.6 294.1,681.5 293.1,681.9 292.1,681.3 291.1,681.5 290.2,682.1 289.2,681.5 288.2,681.8 287.2,681.3 286.3,682.0 285.3,681.8 284.3,681.3 283.3,681.3 282.4,682.1 281.4,681.9 280.4,681.8 279.4,681.4 278.5,681.6 277.5,681.9 276.5,682.0 275.5,681.9 274.6,681.7 273.6,682.1 272.6,681.8 271.6,681.5 270.7,681.7 269.7,681.9 268.7,681.9 267.7,681.3 266.8,681.4 265.8,681.7 264.8,682.0 263.8,681.4 262.9,681.5 261.9,681.9 260.9,681.9 259.9,681.8 259.0,681.7 258.0,681.3 257.0,682.0 256.0,681.4 255.1,681.7 254.1,681.7 253.1,682.0 252.1,681.6 251.2,681.3 250.2,681.3 249.2,681.9 248.2,681.9 247.3,681.8 246.3,681.4 245.3,681.5 244.3,681.9 243.4,681.5 242.4,681.7 241.4,681.6 240.4,681.4 239.5,681.4 238.5,681.2 237.5,681.8 236.5,681.7 235.6,681.2 234.6,681.3 233.6,681.4 232.6,681.5 231.7,681.2 230.7,681.2 229.7,681.6 228.7,682.0 227.8,681.9 226.8,681.1 225.8,681.3 224.8,681.2 223.9,681.7 222.9,681.7 221.9,681.7 220.9,681.9 220.0,681.7 219.0,681.9 218.0,681.5 217.0,681.6 216.1,681.8 215.1,681.9 214.1,681.6 213.1,681.1 212.2,681.3 211.2,681.3 210.2,681.8 209.2,681.2 208.3,681.3 207.3,681.9 206.3,681.8 205.3,681.2 204.4,681.8 203.4,681.5 202.4,681.4 201.4,681.3 200.5,681.8 199.5,681.3 198.5,681.4 197.5,681.3 196.6,681.1 195.6,681.7 194.6,681.3 193.6,681.5 192.7,681.3 191.7,681.3 190.7,681.7 189.7,681.2 188.8,681.3 187.8,681.5 186.8,681.4 185.8,681.3 184.9,681.0 183.9,681.3 182.9,681.1 181.9,681.8 181.0,681.0 180.0,681.2 179.2,681.5 178.4,681.6 177.7,681.0 176.9,681.4 176.1,681.2 175.3,681.5 174.5,681.2 173.8,681.7 173.0,681.9 172.2,681.3 171.4,681.8 170.6,681.1 169.9,681.9 169.1,681.2 168.3,681.4 167.5,681.2 166.7,681.9 166.0,681.2 165.2,682.0 164.4,681.3 163.6,681.3 162.8,681.4 162.1,681.8 161.3,681.3 160.5,682.1 159.7,681.4 158.9,682.1 158.2,682.0 157.4,681.7 156.6,682.2 155.8,682.3 155.0,682.3 154.3,681.8 153.5,681.7 152.7,682.3 151.9,681.6 151.1,682.0 150.4,682.2 149.6,682.0 148.8,681.9 148.0,682.8 147.2,682.2 146.5,682.4 145.7,682.7 144.9,682.5 144.1,683.1 143.3,683.3 142.6,683.2 141.8,684.0 141.0,684.1 140.2,684.1 139.4,684.6 138.7,685.0 137.9,685.9 137.1,686.1 136.3,686.1 135.5,686.5 134.8,687.5 134.0,687.4 133.2,688.1 132.4,688.5 131.6,689.2 130.9,689.3 130.1,690.0 129.3,690.4 128.5,691.2 127.7,690.8 127.0,691.2 126.2,692.4 125.4,693.0 124.6,693.0 123.8,693.4 123.1,693.7 122.3,694.3 121.5,695.1" fill="#21918c" stroke="#21918c" stroke-width="3.5" stroke-linejoin="round"/>
<rect x="585" y="675.0" width="3.7" height="9.2" fill="#21918c"/>
<polygon points="121.5,693.4 122.3,692.6 123.1,692.8 123.8,692.8 124.6,692.5 125.4,692.9 126.2,693.2 127.0,692.5 127.7,692.8 128.5,692.9 129.3,692.3 130.1,692.8 130.9,692.6 131.6,692.5 132.4,692.0 133.2,692.0 134.0,691.8 134.8,692.5 135.5,692.3 136.3,691.6 137.1,692.0 137.9,691.6 138.7,692.1 139.4,691.9 140.2,692.1 141.0,691.9 141.8,691.3 142.6,691.5 143.3,691.6 144.1,691.9 144.9,691.3 145.7,691.1 146.5,691.2 147.2,691.1 148.0,691.0 148.8,691.1 149.6,691.0 150.4,691.2 151.1,691.5 151.9,691.5 152.7,690.8 153.5,691.1 154.3,691.2 155.0,690.7 155.8,691.0 156.6,690.7 157.4,690.9 158.2,690.8 158.9,691.2 159.7,690.7 160.5,690.9 161.3,691.0 162.1,690.7 162.8,691.2 163.6,690.7 164.4,690.7 165.2,691.0 166.0,690.8 166.7,691.0 167.5,690.5 168.3,690.5 169.1,691.0 169.9,690.7 170.6,691.1 171.4,690.5 172.2,690.5 173.0,691.1 173.8,690.6 174.5,690.4 175.3,690.5 176.1,691.0 176.9,690.5 177.7,690.8 178.4,691.0 179.2,690.8 180.0,690.9 181.0,691.1 181.9,690.5 182.9,691.0 183.9,690.7 184.9,690.4 185.8,690.3 186.8,690.5 187.8,690.3 188.8,690.9 189.7,690.7 190.7,690.3 191.7,691.0 192.7,690.8 193.6,690.6 194.6,690.3 195.6,690.6 196.6,691.0 197.5,690.7 198.5,690.6 199.5,690.8 200.5,690.7 201.4,690.8 202.4,690.4 203.4,690.4 204.4,690.2 205.3,691.0 206.3,690.2 207.3,690.5 208.3,690.7 209.2,690.7 210.2,691.0 211.2,690.4 212.2,690.3 213.1,690.4 214.1,690.7 215.1,690.5 216.1,690.6 217.0,690.9 218.0,690.5 219.0,690.8 220.0,690.3 220.9,690.7 221.9,691.1 222.9,691.1 223.9,690.8 224.8,691.1 225.8,690.5 226.8,690.5 227.8,690.7 228.7,690.7 229.7,691.0 230.7,690.7 231.7,690.3 232.6,690.9 233.6,690.5 234.6,691.1 235.6,690.5 236.5,690.5 237.5,690.4 238.5,690.5 239.5,690.8 240.4,690.5 241.4,690.3 242.4,690.8 243.4,690.9 244.3,690.4 245.3,690.7 246.3,690.3 247.3,690.3 248.2,690.6 249.2,690.5 250.2,691.1 251.2,690.3 252.1,690.9 253.1,691.0 254.1,690.7 255.1,690.8 256.0,690.5 257.0,690.5 258.0,690.4 259.0,691.1 259.9,690.3 260.9,690.4 261.9,691.0 262.9,690.7 263.8,690.8 264.8,690.6 265.8,690.5 266.8,691.0 267.7,690.4 268.7,690.6 269.7,691.0 270.7,690.6 271.6,691.2 272.6,690.5 273.6,690.8 274.6,690.8 275.5,690.8 276.5,691.0 277.5,690.4 278.5,690.8 279.4,691.1 280.4,690.4 281.4,690.8 282.4,690.7 283.3,690.7 284.3,690.8 285.3,690.9 286.3,691.0 287.2,691.2 288.2,691.0 289.2,691.3 290.2,691.0 291.1,690.6 292.1,690.5 293.1,690.4 294.1,690.6 295.0,690.5 296.0,691.0 297.0,691.0 298.0,690.9 298.9,690.7 299.9,690.8 300.9,690.6 301.9,691.2 302.8,690.4 303.8,690.7 304.8,690.9 305.8,690.6 306.7,691.2 307.7,690.8 308.7,690.7 309.7,690.5 310.6,690.7 311.6,690.9 312.6,690.7 313.6,690.5 314.5,690.9 315.5,690.7 316.5,691.2 317.5,691.0 318.4,691.1 319.4,691.2 320.4,691.2 321.4,690.7 322.3,690.9 323.3,690.7 324.3,690.6 325.3,690.6 326.2,690.5 327.2,690.7 328.2,690.6 329.2,691.0 330.1,690.7 331.1,690.5 332.1,690.8 333.1,690.6 334.0,691.1 335.0,690.7 336.0,691.0 337.0,690.6 337.9,690.9 338.9,691.2 339.9,690.7 340.9,690.9 341.8,690.9 342.8,690.5 343.8,690.5 344.8,691.2 345.7,690.8 346.7,691.1 347.7,690.9 348.7,691.2 349.6,690.7 350.6,690.9 351.6,691.0 352.6,691.2 353.5,690.5 354.5,690.8 355.5,690.9 356.5,691.0 357.4,690.6 358.4,691.0 359.4,691.1 360.4,691.2 361.3,690.7 362.3,690.9 363.3,690.8 364.3,690.9 365.2,690.8 366.2,691.4 367.2,690.5 368.2,691.4 369.1,690.6 370.1,690.6 371.1,690.7 372.1,690.8 373.0,691.3 374.0,691.3 375.0,691.4 376.0,690.9 376.9,690.6 377.9,691.1 378.9,691.3 379.9,690.6 380.8,691.3 381.8,690.5 382.8,691.2 383.8,691.0 384.7,691.4 385.7,691.3 386.7,690.6 387.7,691.0 388.6,690.8 389.6,691.0 390.6,690.6 391.6,690.9 392.5,690.9 393.5,690.6 394.5,691.0 395.5,691.4 396.4,690.6 397.4,691.4 398.4,691.0 399.4,690.8 400.3,691.5 401.3,691.0 402.3,691.0 403.3,690.9 404.2,691.4 405.2,690.7 406.2,690.8 407.2,690.8 408.1,690.7 409.1,691.4 410.1,691.0 411.1,691.1 412.0,691.4 413.0,691.1 414.0,690.9 415.0,691.1 415.9,691.1 416.9,690.9 417.9,690.8 418.9,690.9 419.8,691.3 420.8,690.8 421.8,691.5 422.8,690.8 423.7,690.9 424.7,690.7 425.7,691.0 426.7,691.0 427.6,691.2 428.6,691.4 429.6,690.9 430.6,691.4 431.5,690.9 432.5,691.0 433.5,690.8 434.5,691.5 435.4,691.0 436.4,691.3 437.4,690.7 438.4,691.3 439.3,690.9 440.3,691.1 441.3,691.3 442.3,690.8 443.2,691.1 444.2,691.4 445.2,690.8 446.2,691.1 447.1,690.8 448.1,690.8 449.1,691.1 450.1,691.1 451.0,691.3 452.0,691.5 453.0,691.3 454.0,691.0 454.9,691.1 455.9,691.3 456.9,691.4 457.9,691.3 458.8,691.1 459.8,690.8 460.8,691.5 461.8,691.0 462.7,691.1 463.7,691.5 464.7,690.9 465.7,691.5 466.6,690.9 467.6,690.8 468.6,691.2 469.6,691.4 470.5,691.1 471.5,691.5 472.5,691.1 473.5,691.5 474.4,690.8 475.4,691.0 476.4,690.8 477.4,691.4 478.3,691.2 479.3,691.3 480.3,691.0 481.3,691.4 482.2,691.6 483.2,690.8 484.2,691.0 485.2,691.5 486.1,691.5 487.1,691.5 488.1,691.0 489.1,691.3 490.0,690.8 491.0,691.1 492.0,691.3 493.0,691.0 493.9,691.1 494.9,691.1 495.9,690.8 496.9,690.8 497.8,691.5 498.8,690.8 499.8,691.7 500.8,691.6 501.7,691.7 502.7,691.5 503.7,690.8 504.7,690.9 505.6,691.1 506.6,691.0 507.6,690.8 508.6,691.6 509.5,691.6 510.5,691.5 511.5,691.0 512.5,691.6 513.4,691.5 514.4,691.1 515.4,690.9 516.4,690.9 517.3,691.2 518.3,691.6 519.3,690.9 520.3,691.2 521.2,691.1 522.2,691.6 523.2,691.0 524.2,691.4 525.1,691.1 526.1,691.4 527.1,691.6 528.1,691.6 529.0,691.6 530.0,691.1 531.0,691.1 532.0,690.9 532.9,691.1 533.9,690.9 534.9,691.5 535.9,690.9 536.8,691.0 537.8,691.6 538.8,691.5 539.8,691.7 540.7,691.2 541.7,690.9 542.7,691.6 543.7,691.1 544.6,691.6 545.6,690.9 546.6,690.9 547.6,691.4 548.5,691.5 549.5,691.4 550.5,691.4 551.5,691.4 552.4,691.0 553.4,690.9 554.4,691.2 555.4,691.4 556.3,691.1 557.3,691.0 558.3,691.3 559.3,691.3 560.2,691.1 561.2,691.7 562.2,691.7 563.2,690.9 564.1,691.3 565.1,691.1 566.1,691.2 567.1,690.9 568.0,691.0 569.0,690.9 570.0,691.0 571.0,691.5 571.9,691.0 572.9,691.7 573.9,691.6 574.9,691.2 575.8,691.5 576.8,691.8 577.8,691.0 578.8,691.4 579.7,691.4 580.7,691.2 581.7,691.2 582.7,691.0 583.6,691.5 584.6,691.1 585.6,691.3 586.6,691.8 586.8,691.3 586.8,694.1 586.6,694.0 585.6,693.6 584.6,693.6 583.6,693.7 582.7,693.9 581.7,694.2 580.7,694.3 579.7,694.3 578.8,694.0 577.8,693.9 576.8,694.1 575.8,693.8 574.9,693.5 573.9,694.1 572.9,694.2 571.9,693.9 571.0,693.8 570.0,693.5 569.0,694.1 568.0,694.3 567.1,694.1 566.1,693.4 565.1,693.5 564.1,694.2 563.2,693.5 562.2,693.7 561.2,693.4 560.2,694.2 559.3,694.0 558.3,693.5 557.3,693.5 556.3,693.6 555.4,694.2 554.4,693.9 553.4,693.7 552.4,693.5 551.5,693.9 550.5,693.6 549.5,693.9 548.5,693.4 547.6,694.0 546.6,693.5 545.6,694.0 544.6,693.9 543.7,693.9 542.7,694.1 541.7,693.5 540.7,693.6 539.8,693.7 538.8,694.1 537.8,693.5 536.8,693.4 535.9,693.6 534.9,693.7 533.9,693.9 532.9,693.6 532.0,693.9 531.0,693.5 530.0,693.4 529.0,693.3 528.1,693.5 527.1,693.6 526.1,693.6 525.1,693.5 524.2,693.2 523.2,694.1 522.2,693.5 521.2,693.9 520.3,693.6 519.3,693.3 518.3,693.5 517.3,693.9 516.4,693.4 515.4,694.1 514.4,693.8 513.4,693.4 512.5,694.0 511.5,693.5 510.5,694.0 509.5,693.6 508.6,693.7 507.6,693.7 506.6,693.8 505.6,693.2 504.7,693.4 503.7,693.8 502.7,693.8 501.7,693.7 500.8,693.7 499.8,693.6 498.8,693.4 497.8,694.0 496.9,693.4 495.9,694.0 494.9,693.6 493.9,693.9 493.0,693.4 492.0,694.0 491.0,693.3 490.0,693.8 489.1,693.3 488.1,693.5 487.1,693.9 486.1,693.3 485.2,693.2 484.2,693.9 483.2,693.4 482.2,693.8 481.3,693.2 480.3,693.2 479.3,693.2 478.3,693.7 477.4,693.5 476.4,693.9 475.4,693.8 474.4,693.8 473.5,693.5 472.5,693.9 471.5,693.6 470.5,693.6 469.6,693.8 468.6,693.9 467.6,693.9 466.6,693.2 465.7,693.9 464.7,693.4 463.7,693.6 462.7,693.8 461.8,693.4 460.8,693.9 459.8,693.4 458.8,693.6 457.9,693.4 456.9,693.6 455.9,693.3 454.9,693.7 454.0,693.8 453.0,693.0 452.0,693.9 451.0,693.3 450.1,693.4 449.1,693.2 448.1,693.9 447.1,693.7 446.2,693.3 445.2,693.3 444.2,693.6 443.2,693.6 442.3,693.6 441.3,693.4 440.3,693.2 439.3,693.3 438.4,693.2 437.4,693.5 436.4,693.5 435.4,693.7 434.5,693.1 433.5,693.7 432.5,693.7 431.5,693.1 430.6,693.8 429.6,693.1 428.6,693.6 427.6,693.3 426.7,693.6 425.7,693.1 424.7,693.5 423.7,693.6 422.8,693.7 421.8,693.7 420.8,693.5 419.8,693.3 418.9,693.7 417.9,693.3 416.9,692.9 415.9,693.0 415.0,693.2 414.0,693.6 413.0,693.6 412.0,693.5 411.1,693.5 410.1,692.9 409.1,693.1 408.1,693.0 407.2,693.5 406.2,693.0 405.2,693.7 404.2,693.7 403.3,693.2 402.3,693.1 401.3,693.4 400.3,693.1 399.4,693.6 398.4,693.0 397.4,693.7 396.4,693.0 395.5,693.0 394.5,693.6 393.5,692.9 392.5,692.9 391.6,693.6 390.6,692.8 389.6,693.0 388.6,693.3 387.7,692.9 386.7,693.7 385.7,693.1 384.7,692.8 383.8,692.9 382.8,692.8 381.8,693.1 380.8,693.1 379.9,693.1 378.9,693.7 377.9,693.3 376.9,693.0 376.0,693.1 375.0,693.0 374.0,693.6 373.0,692.8 372.1,692.8 371.1,693.3 370.1,693.2 369.1,693.2 368.2,693.1 367.2,693.3 366.2,693.0 365.2,693.5 364.3,692.9 363.3,693.6 362.3,693.0 361.3,693.3 360.4,693.1 359.4,693.2 358.4,692.8 357.4,693.4 356.5,693.5 355.5,692.8 354.5,693.0 353.5,692.9 352.6,693.6 351.6,692.8 350.6,693.4 349.6,692.9 348.7,693.1 347.7,692.8 346.7,693.2 345.7,693.1 344.8,692.9 343.8,693.4 342.8,693.5 341.8,692.9 340.9,693.0 339.9,693.3 338.9,692.8 337.9,692.8 337.0,693.0 336.0,693.0 335.0,693.3 334.0,692.9 333.1,693.5 332.1,693.0 331.1,692.8 330.1,692.8 329.2,693.0 328.2,692.7 327.2,692.8 326.2,693.2 325.3,693.1 324.3,692.6 323.3,692.9 322.3,692.7 321.4,693.4 320.4,693.2 319.4,693.2 318.4,693.1 317.5,692.9 316.5,693.2 315.5,692.8 314.5,692.7 313.6,692.9 312.6,693.3 311.6,693.3 310.6,692.9 309.7,692.7 308.7,692.6 307.7,692.9 306.7,692.7 305.8,692.6 304.8,692.7 303.8,692.8 302.8,692.7 301.9,692.5 300.9,692.6 299.9,692.8 298.9,693.1 298.0,693.2 297.0,692.6 296.0,692.8 295.0,693.2 294.1,693.2 293.1,693.0 292.1,693.1 291.1,692.8 290.2,692.7 289.2,693.3 288.2,693.2 287.2,693.2 286.3,693.1 285.3,693.2 284.3,692.9 283.3,693.2 282.4,692.7 281.4,692.7 280.4,692.5 279.4,693.2 278.5,692.6 277.5,692.7 276.5,693.2 275.5,693.1 274.6,693.1 273.6,693.0 272.6,692.5 271.6,693.0 270.7,692.6 269.7,693.3 268.7,693.2 267.7,692.5 266.8,693.2 265.8,693.1 264.8,693.2 263.8,692.7 262.9,693.2 261.9,693.0 260.9,692.7 259.9,693.2 259.0,693.3 258.0,692.8 257.0,692.7 256.0,692.9 255.1,692.8 254.1,692.7 253.1,693.1 252.1,693.2 251.2,692.9 250.2,692.6 249.2,693.0 248.2,692.7 247.3,693.1 246.3,692.6 245.3,692.9 244.3,692.4 243.4,692.4 242.4,693.1 241.4,693.0 240.4,693.1 239.5,692.8 238.5,693.1 237.5,693.0 236.5,692.8 235.6,692.9 234.6,692.7 233.6,692.9 232.6,692.6 231.7,692.7 230.7,693.1 229.7,692.8 228.7,693.1 227.8,692.9 226.8,692.8 225.8,693.0 224.8,692.6 223.9,693.0 222.9,693.1 221.9,692.7 220.9,693.0 220.0,692.3 219.0,692.6 218.0,693.1 217.0,693.0 216.1,692.7 215.1,692.6 214.1,692.9 213.1,692.8 212.2,692.6 211.2,692.9 210.2,692.7 209.2,693.0 208.3,692.6 207.3,692.9 206.3,692.3 205.3,692.2 204.4,692.5 203.4,693.1 202.4,692.6 201.4,693.1 200.5,692.8 199.5,692.6 198.5,693.1 197.5,692.5 196.6,692.5 195.6,692.4 194.6,692.9 193.6,693.0 192.7,692.4 191.7,692.8 190.7,692.6 189.7,692.7 188.8,692.5 187.8,693.0 186.8,693.0 185.8,692.8 184.9,692.5 183.9,692.4 182.9,693.0 181.9,692.5 181.0,692.9 180.0,692.5 179.2,692.4 178.4,693.1 177.7,692.3 176.9,692.8 176.1,692.7 175.3,692.3 174.5,692.7 173.8,692.5 173.0,693.1 172.2,692.3 171.4,692.6 170.6,692.5 169.9,692.4 169.1,692.5 168.3,692.7 167.5,692.9 166.7,693.1 166.0,692.7 165.2,692.9 164.4,692.9 163.6,692.9 162.8,693.2 162.1,692.4 161.3,692.8 160.5,692.5 159.7,692.4 158.9,692.6 158.2,693.3 157.4,692.7 156.6,693.2 155.8,692.8 155.0,693.4 154.3,693.3 153.5,692.6 152.7,693.1 151.9,692.8 151.1,692.7 150.4,693.4 149.6,693.1 148.8,693.2 148.0,692.9 147.2,693.4 146.5,693.4 145.7,693.1 144.9,693.2 144.1,693.4 143.3,693.1 142.6,693.1 141.8,694.0 141.0,693.3 140.2,693.3 139.4,694.0 138.7,693.7 137.9,694.1 137.1,693.7 136.3,693.7 135.5,693.7 134.8,693.9 134.0,693.9 133.2,693.8 132.4,694.0 131.6,694.1 130.9,694.7 130.1,694.5 129.3,694.8 128.5,694.1 127.7,694.4 127.0,694.6 126.2,694.5 125.4,694.8 124.6,694.5 123.8,694.9 123.1,694.9 122.3,695.3 121.5,694.8" fill="#287c8e" stroke="#287c8e" stroke-width="3.5" stroke-linejoin="round"/>
<rect x="585" y="689.5" width="3.7" height="6.4" fill="#287c8e"/>
<polygon points="121.5,692.9 122.3,693.0 123.1,692.4 123.8,692.4 124.6,692.3 125.4,692.6 126.2,693.0 127.0,692.8 127.7,692.5 128.5,692.3 129.3,692.9 130.1,693.0 130.9,692.8 131.6,692.4 132.4,692.5 133.2,692.7 134.0,693.0 134.8,692.4 135.5,692.5 136.3,692.2 137.1,692.1 137.9,692.4 138.7,692.9 139.4,692.7 140.2,692.6 141.0,692.5 141.8,692.4 142.6,692.8 143.3,692.6 144.1,692.2 144.9,692.7 145.7,693.0 146.5,692.2 147.2,693.0 148.0,692.2 148.8,692.4 149.6,693.0 150.4,693.0 151.1,692.3 151.9,692.8 152.7,692.7 153.5,692.5 154.3,692.8 155.0,692.7 155.8,692.3 156.6,692.6 157.4,692.8 158.2,692.7 158.9,692.6 159.7,692.8 160.5,692.2 161.3,692.2 162.1,692.1 162.8,692.7 163.6,692.5 164.4,692.9 165.2,693.0 166.0,692.2 166.7,692.5 167.5,692.5 168.3,692.6 169.1,692.9 169.9,692.7 170.6,692.4 171.4,692.7 172.2,692.4 173.0,692.6 173.8,692.2 174.5,692.6 175.3,692.5 176.1,692.7 176.9,692.6 177.7,692.6 178.4,692.8 179.2,692.2 180.0,692.8 181.0,692.7 181.9,692.7 182.9,692.5 183.9,692.2 184.9,693.0 185.8,692.9 186.8,693.0 187.8,692.6 188.8,692.9 189.7,692.9 190.7,692.6 191.7,693.0 192.7,692.9 193.6,692.2 194.6,692.3 195.6,692.5 196.6,692.6 197.5,692.7 198.5,692.7 199.5,693.0 200.5,692.9 201.4,692.3 202.4,692.5 203.4,693.0 204.4,692.9 205.3,692.2 206.3,692.7 207.3,692.3 208.3,692.6 209.2,693.1 210.2,692.2 211.2,692.9 212.2,692.6 213.1,693.1 214.1,693.0 215.1,692.2 216.1,692.8 217.0,693.0 218.0,692.4 219.0,692.8 220.0,692.4 220.9,692.4 221.9,692.5 222.9,692.5 223.9,693.1 224.8,692.4 225.8,692.6 226.8,692.6 227.8,692.8 228.7,693.1 229.7,692.8 230.7,693.0 231.7,692.3 232.6,692.8 233.6,692.4 234.6,693.0 235.6,692.8 236.5,692.4 237.5,693.0 238.5,692.7 239.5,692.7 240.4,692.3 241.4,693.1 242.4,692.7 243.4,693.0 244.3,692.3 245.3,692.9 246.3,692.6 247.3,692.7 248.2,692.8 249.2,693.0 250.2,693.1 251.2,692.4 252.1,693.0 253.1,692.4 254.1,692.3 255.1,692.5 256.0,692.5 257.0,693.0 258.0,692.8 259.0,692.6 259.9,693.0 260.9,693.1 261.9,692.9 262.9,692.9 263.8,693.1 264.8,692.5 265.8,693.2 266.8,692.4 267.7,692.3 268.7,693.0 269.7,692.4 270.7,692.6 271.6,692.8 272.6,692.4 273.6,692.7 274.6,692.6 275.5,692.4 276.5,692.8 277.5,692.7 278.5,692.5 279.4,693.0 280.4,692.7 281.4,692.3 282.4,693.1 283.3,692.7 284.3,692.4 285.3,692.6 286.3,692.6 287.2,692.4 288.2,692.6 289.2,692.5 290.2,692.5 291.1,692.9 292.1,692.5 293.1,692.4 294.1,692.5 295.0,692.6 296.0,692.5 297.0,692.9 298.0,693.1 298.9,693.1 299.9,692.8 300.9,693.1 301.9,693.1 302.8,692.9 303.8,693.1 304.8,692.7 305.8,693.0 306.7,692.8 307.7,693.0 308.7,693.0 309.7,692.4 310.6,693.1 311.6,692.4 312.6,692.8 313.6,692.9 314.5,693.1 315.5,692.4 316.5,693.0 317.5,692.7 318.4,692.4 319.4,692.7 320.4,693.0 321.4,692.5 322.3,693.2 323.3,692.4 324.3,692.6 325.3,692.7 326.2,692.5 327.2,693.2 328.2,693.3 329.2,693.2 330.1,692.6 331.1,693.2 332.1,692.7 333.1,692.7 334.0,693.0 335.0,692.5 336.0,692.4 337.0,693.3 337.9,692.7 338.9,693.1 339.9,692.8 340.9,692.5 341.8,692.9 342.8,692.6 343.8,692.5 344.8,692.4 345.7,692.8 346.7,692.7 347.7,692.7 348.7,693.3 349.6,693.2 350.6,693.1 351.6,692.7 352.6,693.1 353.5,693.1 354.5,692.9 355.5,692.7 356.5,692.6 357.4,692.8 358.4,692.7 359.4,693.3 360.4,692.9 361.3,693.1 362.3,693.3 363.3,693.0 364.3,692.6 365.2,692.8 366.2,693.3 367.2,692.5 368.2,692.7 369.1,693.0 370.1,693.2 371.1,693.2 372.1,693.1 373.0,693.1 374.0,692.8 375.0,692.5 376.0,693.1 376.9,692.6 377.9,693.2 378.9,692.6 379.9,692.5 380.8,693.4 381.8,692.6 382.8,693.0 383.8,692.6 384.7,693.4 385.7,692.5 386.7,693.1 387.7,693.3 388.6,692.8 389.6,692.5 390.6,692.5 391.6,692.6 392.5,693.2 393.5,693.0 394.5,693.3 395.5,693.1 396.4,693.1 397.4,692.7 398.4,692.7 399.4,693.4 400.3,693.4 401.3,692.9 402.3,693.3 403.3,693.2 404.2,692.8 405.2,692.7 406.2,693.2 407.2,693.4 408.1,693.4 409.1,692.9 410.1,692.6 411.1,692.8 412.0,692.6 413.0,693.4 414.0,692.8 415.0,693.3 415.9,692.8 416.9,693.4 417.9,693.0 418.9,693.3 419.8,693.1 420.8,693.3 421.8,692.6 422.8,692.7 423.7,692.9 424.7,693.4 425.7,693.4 426.7,693.2 427.6,693.1 428.6,692.6 429.6,693.4 430.6,693.2 431.5,693.1 432.5,693.3 433.5,692.8 434.5,693.2 435.4,693.2 436.4,693.3 437.4,692.7 438.4,693.3 439.3,693.4 440.3,693.2 441.3,692.8 442.3,693.4 443.2,692.7 444.2,692.8 445.2,693.4 446.2,693.1 447.1,692.9 448.1,693.3 449.1,693.2 450.1,692.7 451.0,692.8 452.0,693.4 453.0,693.4 454.0,692.7 454.9,693.1 455.9,693.3 456.9,692.9 457.9,692.7 458.8,693.0 459.8,693.5 460.8,693.3 461.8,692.8 462.7,693.4 463.7,693.2 464.7,692.9 465.7,692.9 466.6,692.8 467.6,693.0 468.6,693.0 469.6,692.9 470.5,693.4 471.5,693.3 472.5,693.1 473.5,693.5 474.4,693.3 475.4,693.5 476.4,693.4 477.4,693.2 478.3,693.3 479.3,693.4 480.3,693.4 481.3,693.5 482.2,693.0 483.2,693.0 484.2,692.9 485.2,693.5 486.1,693.5 487.1,693.1 488.1,693.1 489.1,692.8 490.0,693.6 491.0,693.3 492.0,693.6 493.0,693.3 493.9,693.2 494.9,693.4 495.9,693.5 496.9,693.5 497.8,693.0 498.8,693.2 499.8,693.6 500.8,693.2 501.7,693.4 502.7,693.2 503.7,693.5 504.7,692.8 505.6,692.7 506.6,692.8 507.6,693.1 508.6,693.1 509.5,693.6 510.5,693.6 511.5,692.9 512.5,693.5 513.4,693.2 514.4,693.5 515.4,693.1 516.4,693.4 517.3,692.8 518.3,693.2 519.3,693.1 520.3,693.0 521.2,693.0 522.2,693.1 523.2,693.2 524.2,693.2 525.1,693.4 526.1,693.5 527.1,693.6 528.1,693.4 529.0,693.0 530.0,693.3 531.0,693.2 532.0,693.0 532.9,693.1 533.9,693.0 534.9,693.3 535.9,692.8 536.8,693.3 537.8,693.2 538.8,692.8 539.8,693.0 540.7,693.7 541.7,693.3 542.7,692.9 543.7,693.3 544.6,693.4 545.6,692.9 546.6,693.2 547.6,693.0 548.5,693.3 549.5,693.5 550.5,693.0 551.5,692.9 552.4,692.9 553.4,693.4 554.4,692.9 555.4,693.3 556.3,693.5 557.3,693.5 558.3,693.4 559.3,692.8 560.2,693.2 561.2,693.0 562.2,693.3 563.2,693.0 564.1,693.0 565.1,693.7 566.1,693.6 567.1,692.9 568.0,693.6 569.0,692.9 570.0,693.1 571.0,693.7 571.9,693.7 572.9,693.3 573.9,693.5 574.9,693.2 575.8,693.6 576.8,693.1 577.8,693.0 578.8,693.0 579.7,693.4 580.7,693.4 581.7,693.7 582.7,693.0 583.6,693.6 584.6,693.7 585.6,693.5 586.6,693.0 586.8,693.0 586.8,697.1 586.6,696.7 585.6,696.8 584.6,696.7 583.6,696.7 582.7,697.0 581.7,696.4 580.7,697.1 579.7,696.7 578.8,696.4 577.8,697.0 576.8,696.3 575.8,696.4 574.9,696.5 573.9,697.0 572.9,696.8 571.9,696.3 571.0,697.2 570.0,697.2 569.0,696.5 568.0,696.8 567.1,696.6 566.1,697.0 565.1,696.9 564.1,696.9 563.2,696.5 562.2,696.7 561.2,696.4 560.2,696.9 559.3,697.0 558.3,696.8 557.3,696.4 556.3,696.8 555.4,696.3 554.4,697.0 553.4,697.1 552.4,696.8 551.5,696.7 550.5,696.5 549.5,696.7 548.5,696.8 547.6,696.7 546.6,696.9 545.6,696.9 544.6,696.6 543.7,696.6 542.7,696.4 541.7,696.4 540.7,696.3 539.8,696.4 538.8,696.4 537.8,696.6 536.8,696.5 535.9,697.0 534.9,696.8 533.9,696.9 532.9,696.6 532.0,696.2 531.0,696.7 530.0,696.7 529.0,696.7 528.1,697.0 527.1,696.5 526.1,696.5 525.1,696.9 524.2,696.4 523.2,696.4 522.2,696.8 521.2,696.8 520.3,696.2 519.3,696.3 518.3,696.2 517.3,696.6 516.4,696.4 515.4,696.5 514.4,696.8 513.4,696.2 512.5,697.0 511.5,696.7 510.5,696.8 509.5,696.4 508.6,696.5 507.6,696.9 506.6,696.2 505.6,696.2 504.7,696.7 503.7,696.8 502.7,696.2 501.7,696.1 500.8,696.6 499.8,696.3 498.8,696.1 497.8,696.7 496.9,696.7 495.9,696.5 494.9,696.9 493.9,696.5 493.0,696.4 492.0,696.2 491.0,696.3 490.0,696.5 489.1,696.9 488.1,696.7 487.1,696.6 486.1,696.5 485.2,696.2 484.2,696.6 483.2,696.4 482.2,696.9 481.3,696.2 480.3,696.1 479.3,696.5 478.3,696.7 477.4,696.7 476.4,696.4 475.4,696.5 474.4,696.6 473.5,696.6 472.5,696.1 471.5,696.5 470.5,696.7 469.6,696.2 468.6,696.6 467.6,696.6 466.6,696.7 465.7,696.7 464.7,696.1 463.7,696.4 462.7,696.5 461.8,696.3 460.8,696.1 459.8,696.0 458.8,696.3 457.9,696.0 456.9,696.0 455.9,696.4 454.9,696.4 454.0,696.3 453.0,696.6 452.0,696.6 451.0,696.0 450.1,696.5 449.1,696.1 448.1,696.1 447.1,696.7 446.2,696.1 445.2,696.4 444.2,696.6 443.2,696.4 442.3,696.7 441.3,696.2 440.3,696.0 439.3,696.5 438.4,696.4 437.4,696.6 436.4,696.0 435.4,696.1 434.5,695.9 433.5,696.5 432.5,696.0 431.5,696.6 430.6,696.1 429.6,696.3 428.6,695.8 427.6,696.1 426.7,696.6 425.7,696.5 424.7,696.1 423.7,696.6 422.8,695.9 421.8,696.1 420.8,696.2 419.8,696.0 418.9,696.5 417.9,696.0 416.9,696.5 415.9,696.1 415.0,695.8 414.0,696.3 413.0,696.6 412.0,696.0 411.1,696.3 410.1,696.3 409.1,696.3 408.1,695.8 407.2,696.7 406.2,696.6 405.2,696.6 404.2,695.9 403.3,696.1 402.3,696.5 401.3,696.3 400.3,696.1 399.4,695.8 398.4,695.8 397.4,695.7 396.4,695.9 395.5,695.8 394.5,696.3 393.5,696.6 392.5,696.3 391.6,696.2 390.6,696.5 389.6,696.5 388.6,696.5 387.7,696.0 386.7,695.8 385.7,696.5 384.7,696.1 383.8,696.4 382.8,695.7 381.8,696.2 380.8,696.5 379.9,696.4 378.9,695.8 377.9,696.3 376.9,695.8 376.0,696.4 375.0,695.8 374.0,695.7 373.0,696.1 372.1,696.3 371.1,696.3 370.1,696.5 369.1,696.2 368.2,696.5 367.2,696.4 366.2,695.9 365.2,696.4 364.3,696.1 363.3,696.4 362.3,696.3 361.3,695.8 360.4,696.0 359.4,696.0 358.4,696.0 357.4,696.0 356.5,696.4 355.5,696.5 354.5,696.5 353.5,695.7 352.6,696.3 351.6,695.9 350.6,696.0 349.6,696.2 348.7,696.0 347.7,696.3 346.7,696.1 345.7,696.2 344.8,696.3 343.8,696.0 342.8,696.3 341.8,695.8 340.9,695.6 339.9,695.9 338.9,695.9 337.9,696.2 337.0,696.4 336.0,696.3 335.0,695.9 334.0,696.0 333.1,696.4 332.1,696.0 331.1,696.1 330.1,696.4 329.2,696.0 328.2,695.8 327.2,696.1 326.2,695.6 325.3,695.9 324.3,696.4 323.3,695.7 322.3,695.5 321.4,695.6 320.4,696.2 319.4,695.6 318.4,695.5 317.5,695.8 316.5,696.3 315.5,695.9 314.5,695.8 313.6,695.8 312.6,695.5 311.6,696.1 310.6,695.5 309.7,696.3 308.7,695.7 307.7,696.3 306.7,696.3 305.8,695.7 304.8,695.5 303.8,695.8 302.8,695.9 301.9,695.8 300.9,696.2 299.9,695.9 298.9,695.6 298.0,695.6 297.0,696.2 296.0,695.5 295.0,696.1 294.1,695.4 293.1,695.7 292.1,695.9 291.1,695.8 290.2,695.7 289.2,695.7 288.2,696.1 287.2,695.6 286.3,695.7 285.3,695.6 284.3,695.6 283.3,696.2 282.4,696.0 281.4,695.9 280.4,695.7 279.4,695.5 278.5,695.9 277.5,695.8 276.5,696.2 275.5,695.4 274.6,695.6 273.6,695.5 272.6,695.9 271.6,695.3 270.7,695.9 269.7,696.0 268.7,695.4 267.7,695.4 266.8,695.9 265.8,696.1 264.8,695.6 263.8,695.4 262.9,695.4 261.9,695.4 260.9,696.2 259.9,696.0 259.0,696.0 258.0,695.5 257.0,696.1 256.0,695.5 255.1,695.6 254.1,695.7 253.1,695.3 252.1,696.0 251.2,695.6 250.2,695.8 249.2,695.5 248.2,695.5 247.3,695.9 246.3,695.8 245.3,695.6 244.3,695.7 243.4,695.8 242.4,695.6 241.4,695.4 240.4,695.3 239.5,695.6 238.5,695.5 237.5,695.4 236.5,696.1 235.6,695.3 234.6,695.5 233.6,695.5 232.6,695.6 231.7,695.4 230.7,695.6 229.7,695.4 228.7,695.9 227.8,695.3 226.8,695.7 225.8,696.1 224.8,695.4 223.9,695.7 222.9,695.4 221.9,695.8 220.9,695.3 220.0,695.3 219.0,695.4 218.0,695.2 217.0,695.3 216.1,695.8 215.1,696.0 214.1,695.6 213.1,695.3 212.2,695.4 211.2,695.4 210.2,695.7 209.2,695.8 208.3,695.3 207.3,695.8 206.3,695.8 205.3,695.7 204.4,695.6 203.4,695.8 202.4,695.9 201.4,695.3 200.5,695.1 199.5,695.2 198.5,695.5 197.5,695.6 196.6,695.7 195.6,695.7 194.6,695.4 193.6,695.1 192.7,695.2 191.7,695.1 190.7,695.2 189.7,695.1 188.8,695.1 187.8,695.3 186.8,695.3 185.8,695.1 184.9,695.1 183.9,695.7 182.9,695.6 181.9,695.1 181.0,695.1 180.0,695.8 179.2,695.6 178.4,695.7 177.7,695.1 176.9,695.4 176.1,695.3 175.3,695.6 174.5,695.8 173.8,695.8 173.0,695.5 172.2,695.8 171.4,695.5 170.6,695.7 169.9,695.4 169.1,695.5 168.3,695.6 167.5,695.3 166.7,695.5 166.0,695.0 165.2,695.7 164.4,695.0 163.6,695.2 162.8,695.3 162.1,695.3 161.3,695.2 160.5,695.4 159.7,695.2 158.9,695.5 158.2,695.8 157.4,695.8 156.6,695.5 155.8,695.1 155.0,695.8 154.3,695.1 153.5,695.4 152.7,695.8 151.9,695.2 151.1,695.8 150.4,695.3 149.6,695.0 148.8,695.6 148.0,695.0 147.2,695.6 146.5,695.0 145.7,695.6 144.9,695.1 144.1,695.8 143.3,695.7 142.6,695.3 141.8,695.7 141.0,695.8 140.2,695.0 139.4,695.8 138.7,695.1 137.9,695.7 137.1,695.5 136.3,695.7 135.5,695.7 134.8,695.7 134.0,695.3 133.2,695.2 132.4,695.5 131.6,695.4 130.9,695.3 130.1,695.6 129.3,695.1 128.5,695.5 127.7,695.7 127.0,695.0 126.2,695.6 125.4,695.0 124.6,695.4 123.8,695.1 123.1,695.6 122.3,695.3 121.5,695.0" fill="#33638d" stroke="#33638d" stroke-width="3.5" stroke-linejoin="round"/>
<rect x="585" y="691.3" width="3.7" height="7.6" fill="#33638d"/>
<polygon points="121.5,692.3 122.3,692.1 123.1,691.9 123.8,692.3 124.6,692.8 125.4,692.7 126.2,692.0 127.0,692.3 127.7,692.5 128.5,692.5 129.3,692.2 130.1,692.4 130.9,692.7 131.6,692.9 132.4,693.0 133.2,693.0 134.0,693.0 134.8,692.5 135.5,692.7 136.3,692.8 137.1,692.8 137.9,692.9 138.7,693.0 139.4,692.9 140.2,692.7 141.0,693.5 141.8,693.6 142.6,693.3 143.3,693.0 144.1,693.2 144.9,693.6 145.7,693.3 146.5,693.4 147.2,693.5 148.0,693.7 148.8,693.4 149.6,693.0 150.4,693.3 151.1,693.7 151.9,693.0 152.7,692.9 153.5,692.9 154.3,693.0 155.0,693.1 155.8,693.6 156.6,693.5 157.4,693.6 158.2,693.4 158.9,693.3 159.7,693.7 160.5,693.1 161.3,693.3 162.1,693.3 162.8,693.6 163.6,693.6 164.4,693.5 165.2,693.5 166.0,693.2 166.7,693.5 167.5,693.7 168.3,693.4 169.1,693.7 169.9,693.4 170.6,693.4 171.4,693.5 172.2,693.1 173.0,693.2 173.8,693.2 174.5,693.6 175.3,693.7 176.1,693.8 176.9,693.3 177.7,693.5 178.4,693.3 179.2,693.8 180.0,693.6 181.0,693.6 181.9,693.5 182.9,694.2 183.9,693.8 184.9,694.3 185.8,693.8 186.8,693.7 187.8,694.2 188.8,694.4 189.7,693.8 190.7,694.4 191.7,694.2 192.7,694.5 193.6,694.6 194.6,694.2 195.6,694.7 196.6,694.0 197.5,694.3 198.5,694.3 199.5,694.2 200.5,694.5 201.4,694.7 202.4,694.2 203.4,694.6 204.4,694.6 205.3,694.4 206.3,694.8 207.3,694.5 208.3,694.8 209.2,694.8 210.2,695.0 211.2,695.2 212.2,695.3 213.1,694.9 214.1,694.7 215.1,694.8 216.1,695.3 217.0,695.3 218.0,695.4 219.0,695.4 220.0,695.2 220.9,695.6 221.9,695.4 222.9,695.4 223.9,695.6 224.8,695.5 225.8,695.6 226.8,695.8 227.8,695.4 228.7,695.7 229.7,695.3 230.7,695.5 231.7,695.9 232.6,696.0 233.6,696.1 234.6,695.9 235.6,696.0 236.5,696.1 237.5,695.9 238.5,695.6 239.5,695.4 240.4,696.1 241.4,696.1 242.4,696.0 243.4,695.9 244.3,696.0 245.3,696.0 246.3,695.8 247.3,696.0 248.2,695.6 249.2,695.8 250.2,695.9 251.2,695.9 252.1,695.6 253.1,695.5 254.1,695.9 255.1,695.4 256.0,696.1 257.0,695.5 258.0,696.0 259.0,695.7 259.9,696.1 260.9,695.5 261.9,695.5 262.9,695.9 263.8,696.0 264.8,695.6 265.8,695.7 266.8,695.9 267.7,695.6 268.7,695.7 269.7,695.8 270.7,695.6 271.6,695.4 272.6,696.1 273.6,695.4 274.6,696.2 275.5,696.1 276.5,695.7 277.5,696.1 278.5,695.3 279.4,695.8 280.4,695.6 281.4,695.5 282.4,696.1 283.3,695.3 284.3,696.0 285.3,695.3 286.3,695.9 287.2,695.5 288.2,695.7 289.2,696.1 290.2,696.0 291.1,695.3 292.1,695.5 293.1,695.7 294.1,695.9 295.0,695.2 296.0,696.0 297.0,696.0 298.0,696.1 298.9,695.4 299.9,695.4 300.9,696.0 301.9,695.7 302.8,695.4 303.8,695.2 304.8,695.4 305.8,695.8 306.7,695.9 307.7,695.5 308.7,696.0 309.7,695.7 310.6,695.7 311.6,695.6 312.6,695.6 313.6,695.5 314.5,695.9 315.5,695.6 316.5,695.4 317.5,695.6 318.4,696.0 319.4,695.8 320.4,695.3 321.4,695.6 322.3,695.6 323.3,695.2 324.3,696.0 325.3,696.0 326.2,695.3 327.2,695.7 328.2,695.4 329.2,695.4 330.1,695.4 331.1,695.2 332.1,695.8 333.1,695.5 334.0,695.8 335.0,695.9 336.0,695.7 337.0,695.5 337.9,695.3 338.9,695.7 339.9,695.7 340.9,695.8 341.8,695.3 342.8,695.2 343.8,695.9 344.8,695.7 345.7,695.2 346.7,695.8 347.7,695.2 348.7,695.7 349.6,695.6 350.6,695.8 351.6,695.2 352.6,695.9 353.5,696.0 354.5,696.0 355.5,695.8 356.5,695.4 357.4,696.0 358.4,695.6 359.4,695.7 360.4,695.7 361.3,695.3 362.3,695.9 363.3,695.7 364.3,695.3 365.2,695.4 366.2,695.2 367.2,695.5 368.2,696.0 369.1,695.4 370.1,695.4 371.1,695.8 372.1,695.1 373.0,695.2 374.0,695.7 375.0,695.2 376.0,695.6 376.9,695.8 377.9,695.6 378.9,695.1 379.9,695.2 380.8,695.5 381.8,695.9 382.8,695.6 383.8,695.7 384.7,695.6 385.7,695.3 386.7,695.6 387.7,695.0 388.6,695.4 389.6,695.7 390.6,695.2 391.6,695.6 392.5,695.7 393.5,695.1 394.5,695.8 395.5,695.2 396.4,695.9 397.4,695.3 398.4,695.5 399.4,695.8 400.3,695.7 401.3,695.4 402.3,695.2 403.3,695.5 404.2,695.5 405.2,695.0 406.2,695.3 407.2,695.8 408.1,695.4 409.1,695.1 410.1,695.5 411.1,695.4 412.0,695.8 413.0,695.4 414.0,695.0 415.0,695.1 415.9,695.1 416.9,695.8 417.9,695.3 418.9,695.3 419.8,695.8 420.8,695.1 421.8,695.5 422.8,695.8 423.7,695.8 424.7,695.1 425.7,695.4 426.7,695.2 427.6,695.6 428.6,695.1 429.6,695.1 430.6,695.2 431.5,695.0 432.5,695.6 433.5,695.2 434.5,695.3 435.4,695.2 436.4,695.2 437.4,695.2 438.4,695.2 439.3,695.5 440.3,695.1 441.3,695.5 442.3,695.2 443.2,695.0 444.2,695.0 445.2,695.7 446.2,694.9 447.1,695.1 448.1,695.7 449.1,694.9 450.1,695.1 451.0,695.1 452.0,695.6 453.0,695.0 454.0,695.7 454.9,695.0 455.9,695.4 456.9,695.6 457.9,695.4 458.8,695.3 459.8,695.2 460.8,695.1 461.8,695.7 462.7,695.2 463.7,695.4 464.7,695.4 465.7,695.7 466.6,695.1 467.6,695.0 468.6,695.6 469.6,695.3 470.5,695.4 471.5,695.4 472.5,695.5 473.5,695.6 474.4,695.4 475.4,694.8 476.4,695.6 477.4,694.8 478.3,695.6 479.3,694.8 480.3,695.5 481.3,695.4 482.2,694.8 483.2,695.5 484.2,695.3 485.2,694.9 486.1,695.6 487.1,695.3 488.1,695.2 489.1,695.6 490.0,695.0 491.0,694.9 492.0,695.6 493.0,694.9 493.9,695.5 494.9,695.0 495.9,695.5 496.9,695.1 497.8,695.3 498.8,695.3 499.8,695.1 500.8,695.2 501.7,695.3 502.7,694.9 503.7,695.6 504.7,695.5 505.6,694.9 506.6,694.9 507.6,695.1 508.6,695.4 509.5,695.2 510.5,695.0 511.5,695.4 512.5,694.9 513.4,695.4 514.4,695.4 515.4,694.8 516.4,695.2 517.3,695.2 518.3,695.6 519.3,695.0 520.3,695.1 521.2,695.5 522.2,694.8 523.2,695.5 524.2,695.0 525.1,695.0 526.1,695.6 527.1,695.0 528.1,694.9 529.0,694.9 530.0,695.3 531.0,695.3 532.0,694.9 532.9,695.1 533.9,694.9 534.9,695.4 535.9,695.0 536.8,695.2 537.8,695.5 538.8,694.9 539.8,695.5 540.7,695.1 541.7,695.2 542.7,694.9 543.7,695.3 544.6,695.3 545.6,695.2 546.6,695.4 547.6,695.1 548.5,694.7 549.5,695.5 550.5,695.1 551.5,695.2 552.4,695.2 553.4,694.7 554.4,694.9 555.4,694.7 556.3,695.2 557.3,695.4 558.3,695.2 559.3,695.3 560.2,694.9 561.2,694.6 562.2,695.0 563.2,694.8 564.1,694.9 565.1,694.8 566.1,694.8 567.1,695.2 568.0,695.1 569.0,695.3 570.0,695.5 571.0,694.8 571.9,695.4 572.9,695.3 573.9,695.1 574.9,695.5 575.8,695.0 576.8,694.6 577.8,694.7 578.8,694.8 579.7,695.2 580.7,695.1 581.7,695.2 582.7,694.6 583.6,694.8 584.6,695.1 585.6,695.1 586.6,694.9 586.8,694.7 586.8,699.9 586.6,699.4 585.6,699.3 584.6,699.2 583.6,699.2 582.7,699.3 581.7,699.1 580.7,699.9 579.7,699.6 578.8,699.6 577.8,699.2 576.8,699.5 575.8,699.5 574.9,699.1 573.9,699.9 572.9,699.7 571.9,699.9 571.0,699.9 570.0,699.5 569.0,699.2 568.0,699.1 567.1,699.6 566.1,699.9 565.1,699.9 564.1,699.2 563.2,699.6 562.2,699.3 561.2,699.1 560.2,699.1 559.3,699.2 558.3,699.1 557.3,699.4 556.3,699.5 555.4,699.3 554.4,699.2 553.4,699.1 552.4,699.2 551.5,699.3 550.5,699.4 549.5,699.6 548.5,699.9 547.6,699.3 546.6,699.8 545.6,699.7 544.6,699.9 543.7,699.3 542.7,699.5 541.7,699.8 540.7,699.5 539.8,699.8 538.8,699.4 537.8,699.4 536.8,699.3 535.9,699.4 534.9,699.2 533.9,699.3 532.9,699.6 532.0,699.7 531.0,699.2 530.0,699.2 529.0,699.6 528.1,699.9 527.1,699.8 526.1,699.8 525.1,699.5 524.2,699.2 523.2,699.9 522.2,699.1 521.2,699.4 520.3,699.7 519.3,699.2 518.3,699.2 517.3,700.0 516.4,699.6 515.4,699.2 514.4,699.1 513.4,699.2 512.5,699.5 511.5,699.5 510.5,700.0 509.5,699.6 508.6,699.7 507.6,699.3 506.6,699.4 505.6,699.8 504.7,699.7 503.7,699.6 502.7,699.8 501.7,699.8 500.8,699.9 499.8,700.0 498.8,699.9 497.8,699.1 496.9,699.3 495.9,699.8 494.9,699.4 493.9,699.3 493.0,699.5 492.0,699.8 491.0,699.7 490.0,699.3 489.1,699.7 488.1,700.0 487.1,699.7 486.1,700.0 485.2,699.7 484.2,699.9 483.2,699.9 482.2,699.6 481.3,699.8 480.3,699.5 479.3,699.6 478.3,699.9 477.4,699.9 476.4,699.6 475.4,699.3 474.4,699.5 473.5,700.0 472.5,699.5 471.5,699.6 470.5,699.6 469.6,699.8 468.6,699.9 467.6,699.4 466.6,699.8 465.7,699.7 464.7,699.5 463.7,699.8 462.7,699.3 461.8,700.0 460.8,699.2 459.8,699.8 458.8,699.2 457.9,699.3 456.9,699.6 455.9,699.6 454.9,699.8 454.0,699.9 453.0,699.9 452.0,699.7 451.0,699.4 450.1,699.7 449.1,699.3 448.1,699.9 447.1,699.5 446.2,699.3 445.2,699.9 444.2,699.3 443.2,699.3 442.3,699.7 441.3,699.6 440.3,699.9 439.3,699.8 438.4,699.7 437.4,699.6 436.4,699.7 435.4,699.8 434.5,699.6 433.5,699.5 432.5,699.9 431.5,699.8 430.6,699.3 429.6,699.2 428.6,699.7 427.6,699.7 426.7,699.3 425.7,699.9 424.7,699.4 423.7,699.6 422.8,699.9 421.8,699.8 420.8,699.9 419.8,699.9 418.9,699.5 417.9,699.7 416.9,699.6 415.9,699.4 415.0,699.6 414.0,699.2 413.0,699.8 412.0,699.5 411.1,699.5 410.1,699.8 409.1,699.7 408.1,699.3 407.2,699.8 406.2,699.9 405.2,700.0 404.2,699.2 403.3,699.2 402.3,699.6 401.3,699.4 400.3,699.8 399.4,699.8 398.4,699.7 397.4,699.8 396.4,700.0 395.5,699.4 394.5,700.0 393.5,699.3 392.5,699.6 391.6,699.3 390.6,699.3 389.6,699.8 388.6,699.9 387.7,699.2 386.7,699.3 385.7,699.8 384.7,699.9 383.8,699.8 382.8,699.6 381.8,699.9 380.8,699.4 379.9,699.7 378.9,699.7 377.9,699.4 376.9,700.1 376.0,699.8 375.0,700.0 374.0,699.8 373.0,699.3 372.1,699.9 371.1,700.0 370.1,699.5 369.1,699.9 368.2,699.8 367.2,700.0 366.2,699.6 365.2,699.7 364.3,699.2 363.3,699.6 362.3,699.9 361.3,699.6 360.4,699.4 359.4,700.0 358.4,699.7 357.4,699.4 356.5,699.8 355.5,699.7 354.5,699.4 353.5,699.8 352.6,699.6 351.6,700.0 350.6,699.7 349.6,700.0 348.7,699.6 347.7,699.9 346.7,699.5 345.7,699.8 344.8,699.5 343.8,699.8 342.8,699.6 341.8,700.0 340.9,699.5 339.9,699.6 338.9,700.1 337.9,699.6 337.0,699.6 336.0,700.1 335.0,699.9 334.0,699.2 333.1,700.0 332.1,699.8 331.1,699.7 330.1,699.6 329.2,700.1 328.2,700.0 327.2,699.5 326.2,699.4 325.3,699.6 324.3,700.1 323.3,699.5 322.3,699.6 321.4,700.0 320.4,699.3 319.4,700.0 318.4,699.9 317.5,699.3 316.5,699.9 315.5,699.3 314.5,700.1 313.6,699.9 312.6,699.5 311.6,700.0 310.6,699.6 309.7,699.7 308.7,699.4 307.7,699.9 306.7,699.3 305.8,700.1 304.8,699.4 303.8,700.0 302.8,699.3 301.9,699.8 300.9,700.1 299.9,699.6 298.9,700.1 298.0,699.7 297.0,700.1 296.0,700.1 295.0,699.9 294.1,699.5 293.1,700.0 292.1,699.3 291.1,699.4 290.2,699.8 289.2,700.0 288.2,699.8 287.2,699.5 286.3,699.6 285.3,699.6 284.3,699.7 283.3,699.8 282.4,700.1 281.4,699.9 280.4,699.8 279.4,699.6 278.5,699.8 277.5,700.1 276.5,699.6 275.5,699.9 274.6,699.8 273.6,699.9 272.6,699.8 271.6,699.9 270.7,699.5 269.7,700.1 268.7,699.8 267.7,699.5 266.8,700.0 265.8,700.1 264.8,699.7 263.8,699.8 262.9,699.8 261.9,699.9 260.9,699.5 259.9,699.4 259.0,699.5 258.0,699.5 257.0,699.7 256.0,699.7 255.1,699.9 254.1,699.9 253.1,699.8 252.1,700.1 251.2,699.3 250.2,700.1 249.2,699.4 248.2,699.8 247.3,699.5 246.3,700.0 245.3,699.9 244.3,699.6 243.4,699.3 242.4,699.8 241.4,700.1 240.4,699.5 239.5,699.8 238.5,700.0 237.5,699.3 236.5,700.0 235.6,700.0 234.6,699.7 233.6,699.2 232.6,699.4 231.7,699.2 230.7,699.8 229.7,699.4 228.7,699.7 227.8,699.8 226.8,698.9 225.8,699.6 224.8,699.4 223.9,699.5 222.9,699.2 221.9,698.9 220.9,699.1 220.0,699.4 219.0,698.9 218.0,699.2 217.0,699.3 216.1,699.3 215.1,699.1 214.1,698.5 213.1,699.0 212.2,698.7 211.2,698.9 210.2,698.9 209.2,698.5 208.3,698.7 207.3,698.2 206.3,698.6 205.3,698.7 204.4,698.6 203.4,698.3 202.4,698.6 201.4,697.9 200.5,698.4 199.5,698.2 198.5,698.0 197.5,698.2 196.6,698.2 195.6,698.5 194.6,697.8 193.6,698.4 192.7,698.4 191.7,698.2 190.7,698.1 189.7,698.1 188.8,697.7 187.8,697.6 186.8,697.9 185.8,697.5 184.9,697.7 183.9,697.7 182.9,697.6 181.9,697.5 181.0,697.2 180.0,697.3 179.2,697.7 178.4,697.2 177.7,697.9 176.9,697.5 176.1,697.8 175.3,697.0 174.5,697.4 173.8,697.1 173.0,697.0 172.2,697.5 171.4,697.2 170.6,697.4 169.9,697.0 169.1,697.3 168.3,697.1 167.5,697.6 166.7,696.8 166.0,697.6 165.2,697.3 164.4,696.8 163.6,696.9 162.8,697.3 162.1,697.2 161.3,697.4 160.5,697.2 159.7,697.2 158.9,697.0 158.2,697.3 157.4,696.7 156.6,697.4 155.8,697.5 155.0,696.8 154.3,697.5 153.5,697.1 152.7,697.2 151.9,697.1 151.1,697.2 150.4,697.1 149.6,697.2 148.8,697.2 148.0,696.9 147.2,697.3 146.5,697.0 145.7,696.9 144.9,696.5 144.1,696.9 143.3,696.6 142.6,697.1 141.8,697.3 141.0,696.7 140.2,697.3 139.4,697.1 138.7,696.8 137.9,696.7 137.1,697.1 136.3,697.1 135.5,696.9 134.8,696.2 134.0,696.3 133.2,696.6 132.4,696.4 131.6,696.2 130.9,696.3 130.1,696.8 129.3,696.5 128.5,696.3 127.7,696.5 127.0,696.1 126.2,695.9 125.4,695.7 124.6,696.4 123.8,695.8 123.1,696.1 122.3,696.1 121.5,695.7" fill="#3f4889" stroke="#3f4889" stroke-width="3.5" stroke-linejoin="round"/>
<rect x="585" y="693.0" width="3.7" height="8.7" fill="#3f4889"/>
<polygon points="121.5,692.0 122.3,692.2 123.1,691.9 123.8,692.0 124.6,692.0 125.4,692.3 126.2,692.1 127.0,692.1 127.7,692.3 128.5,691.9 129.3,692.7 130.1,691.9 130.9,692.3 131.6,692.8 132.4,692.1 133.2,692.0 134.0,692.4 134.8,692.6 135.5,692.4 136.3,692.2 137.1,692.7 137.9,692.6 138.7,692.4 139.4,692.6 140.2,692.8 141.0,692.5 141.8,692.4 142.6,692.7 143.3,692.6 144.1,692.2 144.9,692.9 145.7,692.2 146.5,692.8 147.2,692.5 148.0,692.8 148.8,692.6 149.6,692.9 150.4,692.6 151.1,692.4 151.9,692.9 152.7,692.9 153.5,692.6 154.3,693.0 155.0,692.8 155.8,693.0 156.6,692.3 157.4,693.0 158.2,692.9 158.9,693.0 159.7,692.5 160.5,692.7 161.3,693.0 162.1,692.8 162.8,692.4 163.6,692.4 164.4,693.0 165.2,692.8 166.0,692.2 166.7,692.4 167.5,692.7 168.3,692.4 169.1,692.6 169.9,692.8 170.6,692.3 171.4,692.4 172.2,693.0 173.0,692.2 173.8,692.3 174.5,693.0 175.3,692.9 176.1,692.7 176.9,693.1 177.7,692.5 178.4,692.4 179.2,693.1 180.0,693.0 181.0,692.7 181.9,693.0 182.9,692.5 183.9,692.8 184.9,693.0 185.8,693.3 186.8,692.9 187.8,692.6 188.8,692.7 189.7,692.9 190.7,693.2 191.7,693.3 192.7,693.3 193.6,693.5 194.6,693.4 195.6,693.4 196.6,693.4 197.5,693.4 198.5,693.5 199.5,693.8 200.5,693.1 201.4,693.5 202.4,693.1 203.4,693.2 204.4,693.9 205.3,693.4 206.3,693.6 207.3,693.3 208.3,693.6 209.2,693.2 210.2,693.7 211.2,694.1 212.2,693.8 213.1,693.8 214.1,693.8 215.1,693.6 216.1,694.0 217.0,693.7 218.0,693.7 219.0,693.9 220.0,694.3 220.9,694.1 221.9,694.1 222.9,693.6 223.9,694.2 224.8,693.9 225.8,694.1 226.8,694.1 227.8,694.3 228.7,693.7 229.7,693.8 230.7,693.9 231.7,693.9 232.6,694.4 233.6,693.9 234.6,693.9 235.6,694.3 236.5,693.9 237.5,694.6 238.5,694.2 239.5,694.2 240.4,694.4 241.4,694.8 242.4,694.1 243.4,694.1 244.3,694.2 245.3,694.6 246.3,694.7 247.3,694.0 248.2,693.9 249.2,694.2 250.2,694.2 251.2,694.6 252.1,694.5 253.1,694.6 254.1,694.2 255.1,694.3 256.0,694.7 257.0,693.9 258.0,693.9 259.0,693.9 259.9,694.6 260.9,694.3 261.9,694.5 262.9,694.5 263.8,694.6 264.8,694.3 265.8,694.2 266.8,694.0 267.7,694.2 268.7,694.0 269.7,694.7 270.7,694.6 271.6,694.1 272.6,694.3 273.6,694.3 274.6,694.4 275.5,694.7 276.5,694.1 277.5,694.4 278.5,694.3 279.4,694.7 280.4,694.1 281.4,694.4 282.4,693.9 283.3,694.3 284.3,694.7 285.3,694.5 286.3,693.9 287.2,694.7 288.2,694.3 289.2,694.4 290.2,694.7 291.1,694.4 292.1,694.0 293.1,694.2 294.1,694.5 295.0,694.2 296.0,694.0 297.0,694.2 298.0,693.9 298.9,693.9 299.9,694.0 300.9,694.3 301.9,694.1 302.8,694.0 303.8,694.5 304.8,694.4 305.8,694.6 306.7,694.0 307.7,694.4 308.7,694.1 309.7,694.3 310.6,694.2 311.6,694.4 312.6,694.3 313.6,694.7 314.5,694.4 315.5,694.1 316.5,694.5 317.5,694.0 318.4,694.5 319.4,694.3 320.4,694.1 321.4,694.5 322.3,693.9 323.3,693.9 324.3,694.1 325.3,694.3 326.2,694.4 327.2,694.1 328.2,694.3 329.2,694.7 330.1,694.7 331.1,694.5 332.1,694.1 333.1,694.2 334.0,694.5 335.0,694.6 336.0,694.7 337.0,694.2 337.9,694.1 338.9,694.1 339.9,694.5 340.9,694.7 341.8,694.3 342.8,694.2 343.8,694.4 344.8,694.2 345.7,694.3 346.7,694.0 347.7,693.9 348.7,694.2 349.6,694.0 350.6,693.9 351.6,694.7 352.6,694.4 353.5,694.1 354.5,694.7 355.5,693.9 356.5,694.1 357.4,694.6 358.4,694.7 359.4,694.5 360.4,694.0 361.3,694.3 362.3,693.9 363.3,693.8 364.3,694.6 365.2,693.8 366.2,693.9 367.2,693.9 368.2,694.4 369.1,694.3 370.1,694.0 371.1,694.2 372.1,694.6 373.0,694.0 374.0,693.8 375.0,694.4 376.0,693.9 376.9,694.3 377.9,694.0 378.9,693.8 379.9,694.4 380.8,694.4 381.8,694.1 382.8,693.9 383.8,694.6 384.7,694.0 385.7,694.0 386.7,694.1 387.7,694.0 388.6,694.0 389.6,694.6 390.6,693.8 391.6,694.5 392.5,694.2 393.5,693.8 394.5,693.9 395.5,694.4 396.4,694.3 397.4,694.0 398.4,694.0 399.4,694.6 400.3,694.4 401.3,694.4 402.3,694.6 403.3,694.0 404.2,694.1 405.2,694.5 406.2,694.1 407.2,694.2 408.1,694.5 409.1,694.6 410.1,694.5 411.1,694.4 412.0,694.1 413.0,694.4 414.0,693.9 415.0,694.0 415.9,693.9 416.9,694.4 417.9,694.6 418.9,694.4 419.8,694.0 420.8,694.3 421.8,694.1 422.8,694.5 423.7,694.2 424.7,694.0 425.7,694.0 426.7,693.8 427.6,694.1 428.6,694.0 429.6,694.1 430.6,694.3 431.5,694.6 432.5,694.5 433.5,694.2 434.5,694.1 435.4,693.9 436.4,694.3 437.4,693.8 438.4,693.8 439.3,694.3 440.3,693.9 441.3,694.5 442.3,694.3 443.2,694.2 444.2,694.6 445.2,693.8 446.2,694.0 447.1,694.2 448.1,694.6 449.1,693.8 450.1,694.3 451.0,694.5 452.0,693.8 453.0,694.3 454.0,694.3 454.9,694.0 455.9,694.2 456.9,694.6 457.9,694.1 458.8,694.1 459.8,694.2 460.8,693.7 461.8,694.4 462.7,693.7 463.7,694.6 464.7,694.6 465.7,694.4 466.6,694.5 467.6,694.3 468.6,694.0 469.6,694.2 470.5,694.3 471.5,693.8 472.5,694.4 473.5,694.0 474.4,694.2 475.4,693.9 476.4,693.9 477.4,694.5 478.3,694.4 479.3,693.7 480.3,694.4 481.3,694.5 482.2,694.3 483.2,694.3 484.2,693.9 485.2,694.3 486.1,694.0 487.1,694.5 488.1,694.3 489.1,694.0 490.0,694.5 491.0,694.4 492.0,693.9 493.0,693.9 493.9,693.7 494.9,694.4 495.9,693.8 496.9,693.9 497.8,694.3 498.8,693.9 499.8,693.9 500.8,693.7 501.7,693.7 502.7,694.2 503.7,693.8 504.7,694.5 505.6,693.7 506.6,694.0 507.6,693.8 508.6,694.5 509.5,694.3 510.5,693.8 511.5,693.7 512.5,693.7 513.4,694.3 514.4,694.3 515.4,694.2 516.4,694.1 517.3,694.1 518.3,694.2 519.3,693.8 520.3,694.4 521.2,694.4 522.2,694.3 523.2,693.9 524.2,693.8 525.1,694.5 526.1,694.5 527.1,694.3 528.1,694.4 529.0,694.1 530.0,694.4 531.0,694.3 532.0,694.0 532.9,694.3 533.9,693.7 534.9,694.0 535.9,694.4 536.8,694.1 537.8,694.1 538.8,694.1 539.8,694.5 540.7,693.8 541.7,694.2 542.7,694.0 543.7,693.8 544.6,693.7 545.6,694.2 546.6,693.8 547.6,694.2 548.5,694.0 549.5,694.0 550.5,694.4 551.5,693.7 552.4,694.1 553.4,694.0 554.4,693.8 555.4,694.0 556.3,694.4 557.3,693.8 558.3,694.2 559.3,693.9 560.2,694.1 561.2,694.1 562.2,693.7 563.2,694.3 564.1,694.0 565.1,693.8 566.1,693.8 567.1,694.5 568.0,694.5 569.0,694.0 570.0,693.9 571.0,694.2 571.9,693.7 572.9,694.4 573.9,693.6 574.9,693.7 575.8,693.9 576.8,694.0 577.8,693.6 578.8,693.9 579.7,694.5 580.7,694.3 581.7,693.7 582.7,694.4 583.6,694.0 584.6,694.5 585.6,693.9 586.6,693.9 586.8,694.2 586.8,698.9 586.6,698.1 585.6,698.7 584.6,698.4 583.6,698.1 582.7,698.7 581.7,698.9 580.7,698.4 579.7,699.0 578.8,698.5 577.8,698.5 576.8,698.9 575.8,698.7 574.9,698.3 573.9,698.7 572.9,698.1 571.9,698.4 571.0,698.2 570.0,698.1 569.0,698.9 568.0,698.2 567.1,698.7 566.1,698.1 565.1,699.0 564.1,698.9 563.2,698.6 562.2,698.1 561.2,698.5 560.2,698.2 559.3,698.3 558.3,698.1 557.3,698.8 556.3,698.9 555.4,698.8 554.4,698.7 553.4,698.7 552.4,698.9 551.5,698.8 550.5,698.4 549.5,698.8 548.5,698.9 547.6,698.2 546.6,698.9 545.6,698.8 544.6,698.9 543.7,698.7 542.7,698.5 541.7,698.4 540.7,698.9 539.8,698.4 538.8,698.5 537.8,698.5 536.8,698.7 535.9,698.1 534.9,698.2 533.9,698.2 532.9,698.3 532.0,698.8 531.0,698.2 530.0,698.4 529.0,698.4 528.1,698.1 527.1,698.5 526.1,698.4 525.1,698.9 524.2,698.8 523.2,698.8 522.2,698.5 521.2,698.9 520.3,698.6 519.3,698.4 518.3,698.2 517.3,698.2 516.4,698.9 515.4,698.1 514.4,698.9 513.4,698.2 512.5,698.6 511.5,698.2 510.5,698.0 509.5,698.8 508.6,698.5 507.6,698.5 506.6,698.4 505.6,698.7 504.7,698.8 503.7,698.9 502.7,698.2 501.7,698.0 500.8,698.1 499.8,698.2 498.8,698.7 497.8,698.9 496.9,698.3 495.9,698.5 494.9,698.1 493.9,698.8 493.0,698.3 492.0,698.5 491.0,698.6 490.0,698.0 489.1,698.8 488.1,698.5 487.1,698.9 486.1,698.4 485.2,698.7 484.2,698.4 483.2,698.1 482.2,698.4 481.3,698.6 480.3,698.4 479.3,698.2 478.3,698.6 477.4,698.4 476.4,698.8 475.4,698.1 474.4,698.5 473.5,698.3 472.5,698.6 471.5,698.9 470.5,698.1 469.6,698.3 468.6,698.1 467.6,698.0 466.6,698.3 465.7,698.4 464.7,698.8 463.7,698.7 462.7,698.1 461.8,698.5 460.8,698.7 459.8,698.3 458.8,698.1 457.9,698.3 456.9,698.2 455.9,698.4 454.9,698.0 454.0,698.7 453.0,698.1 452.0,698.8 451.0,698.0 450.1,698.0 449.1,698.3 448.1,698.7 447.1,698.3 446.2,698.5 445.2,698.8 444.2,698.4 443.2,698.1 442.3,698.5 441.3,698.6 440.3,698.0 439.3,698.2 438.4,698.5 437.4,698.8 436.4,698.5 435.4,698.6 434.5,698.6 433.5,698.5 432.5,698.2 431.5,698.2 430.6,698.0 429.6,698.3 428.6,698.3 427.6,698.3 426.7,698.2 425.7,698.4 424.7,698.0 423.7,698.7 422.8,698.7 421.8,698.0 420.8,698.8 419.8,698.7 418.9,698.0 417.9,698.8 416.9,698.1 415.9,698.3 415.0,698.7 414.0,698.3 413.0,698.7 412.0,698.8 411.1,698.2 410.1,698.1 409.1,698.1 408.1,698.6 407.2,698.1 406.2,698.4 405.2,698.1 404.2,698.6 403.3,698.6 402.3,697.9 401.3,698.3 400.3,698.0 399.4,698.3 398.4,698.4 397.4,698.6 396.4,698.0 395.5,698.7 394.5,698.0 393.5,698.2 392.5,698.5 391.6,698.8 390.6,698.1 389.6,698.7 388.6,698.0 387.7,698.2 386.7,698.4 385.7,698.0 384.7,698.1 383.8,698.4 382.8,698.0 381.8,698.7 380.8,698.0 379.9,698.6 378.9,698.4 377.9,698.2 376.9,698.4 376.0,698.0 375.0,698.4 374.0,698.2 373.0,698.5 372.1,698.8 371.1,698.8 370.1,698.7 369.1,698.7 368.2,698.5 367.2,698.4 366.2,698.1 365.2,698.3 364.3,698.2 363.3,698.5 362.3,697.9 361.3,698.4 360.4,698.4 359.4,698.1 358.4,698.8 357.4,698.4 356.5,698.7 355.5,698.2 354.5,698.1 353.5,698.4 352.6,698.4 351.6,698.4 350.6,698.8 349.6,697.9 348.7,698.6 347.7,698.6 346.7,698.7 345.7,698.5 344.8,698.5 343.8,698.5 342.8,697.9 341.8,698.3 340.9,698.5 339.9,698.3 338.9,698.5 337.9,698.7 337.0,698.3 336.0,698.1 335.0,698.0 334.0,697.9 333.1,698.2 332.1,698.1 331.1,698.1 330.1,698.4 329.2,698.4 328.2,698.4 327.2,697.9 326.2,698.3 325.3,698.5 324.3,698.4 323.3,698.7 322.3,698.4 321.4,698.1 320.4,698.2 319.4,698.2 318.4,698.7 317.5,698.2 316.5,698.5 315.5,698.0 314.5,698.6 313.6,698.2 312.6,698.0 311.6,698.3 310.6,698.7 309.7,698.6 308.7,698.7 307.7,698.4 306.7,698.0 305.8,698.4 304.8,698.0 303.8,698.4 302.8,698.1 301.9,698.2 300.9,698.1 299.9,698.0 298.9,698.4 298.0,698.0 297.0,698.1 296.0,698.7 295.0,698.0 294.1,698.2 293.1,698.2 292.1,697.9 291.1,698.0 290.2,698.6 289.2,698.1 288.2,698.2 287.2,698.5 286.3,698.3 285.3,698.4 284.3,698.0 283.3,697.8 282.4,698.3 281.4,698.3 280.4,698.2 279.4,697.9 278.5,698.0 277.5,698.3 276.5,698.5 275.5,697.8 274.6,698.4 273.6,698.6 272.6,698.2 271.6,698.5 270.7,697.8 269.7,698.7 268.7,698.3 267.7,698.5 266.8,698.0 265.8,698.5 264.8,698.6 263.8,698.5 262.9,698.0 261.9,698.1 260.9,698.3 259.9,698.5 259.0,698.2 258.0,698.5 257.0,698.3 256.0,698.1 255.1,697.8 254.1,698.3 253.1,698.3 252.1,698.2 251.2,698.3 250.2,698.5 249.2,698.3 248.2,698.3 247.3,698.2 246.3,698.0 245.3,698.3 244.3,698.6 243.4,698.4 242.4,698.7 241.4,698.4 240.4,698.3 239.5,697.9 238.5,698.7 237.5,697.9 236.5,698.4 235.6,698.0 234.6,698.0 233.6,697.8 232.6,698.3 231.7,698.3 230.7,697.9 229.7,697.6 228.7,698.0 227.8,697.8 226.8,697.6 225.8,698.2 224.8,698.2 223.9,697.6 222.9,697.7 221.9,698.2 220.9,697.7 220.0,697.9 219.0,697.5 218.0,697.5 217.0,697.9 216.1,697.4 215.1,697.9 214.1,697.7 213.1,697.7 212.2,697.2 211.2,697.1 210.2,697.1 209.2,697.3 208.3,697.7 207.3,697.2 206.3,697.7 205.3,697.7 204.4,697.4 203.4,697.7 202.4,697.1 201.4,696.9 200.5,697.5 199.5,696.8 198.5,697.4 197.5,697.4 196.6,697.0 195.6,697.2 194.6,696.9 193.6,696.9 192.7,697.2 191.7,697.3 190.7,697.4 189.7,697.0 188.8,696.9 187.8,696.5 186.8,696.4 185.8,696.4 184.9,696.9 183.9,696.9 182.9,696.7 181.9,697.1 181.0,696.5 180.0,696.6 179.2,696.5 178.4,696.5 177.7,696.9 176.9,696.9 176.1,696.2 175.3,696.3 174.5,696.7 173.8,696.7 173.0,696.7 172.2,696.3 171.4,696.6 170.6,696.9 169.9,696.0 169.1,696.5 168.3,696.0 167.5,696.5 166.7,696.8 166.0,696.1 165.2,696.6 164.4,696.6 163.6,696.3 162.8,696.8 162.1,696.1 161.3,696.4 160.5,696.8 159.7,696.0 158.9,696.6 158.2,696.8 157.4,696.3 156.6,696.4 155.8,696.7 155.0,696.1 154.3,696.3 153.5,696.7 152.7,696.2 151.9,696.2 151.1,696.3 150.4,696.8 149.6,696.7 148.8,696.2 148.0,696.0 147.2,696.3 146.5,696.0 145.7,696.7 144.9,696.3 144.1,696.7 143.3,696.4 142.6,696.4 141.8,696.3 141.0,696.4 140.2,695.8 139.4,696.2 138.7,696.3 137.9,696.3 137.1,695.8 136.3,696.1 135.5,695.8 134.8,696.6 134.0,696.2 133.2,695.8 132.4,695.8 131.6,696.1 130.9,695.8 130.1,695.8 129.3,696.2 128.5,695.8 127.7,696.1 127.0,696.2 126.2,696.2 125.4,696.2 124.6,695.8 123.8,696.0 123.1,695.9 122.3,695.7 121.5,695.8" fill="#472c7a" stroke="#472c7a" stroke-width="3.5" stroke-linejoin="round"/>
<path d="M230.3 696.1V700.1" stroke="#472c7a" stroke-width="3" stroke-linecap="round" fill="none"/>
<rect x="585" y="692.5" width="3.7" height="8.2" fill="#472c7a"/>
<path d="M180 504.7L180 720" stroke="#000" stroke-width="1.25" fill="none" stroke-dasharray="4.3 2.06" stroke-dashoffset="3.1"/>
<text x="666.2" y="423.8" text-anchor="middle" font-weight="bold">Yeast</text>
<text x="667.6" y="447.8" text-anchor="middle" font-weight="bold">concentration</text>
<text x="671.1" y="471.8" text-anchor="middle" font-weight="bold">(mg/mL)</text>
<circle cx="645" cy="492.9" r="7.2" fill="#7ad151"/>
<text transform="translate(671.8 501.7) scale(1 1.09)" font-size="22.8">8.0</text>
<circle cx="645" cy="526.6" r="7.2" fill="#44bf70"/>
<text transform="translate(671.8 535.4) scale(1 1.09)" font-size="22.8">4.0</text>
<circle cx="645" cy="560.3" r="7.2" fill="#22a884"/>
<text transform="translate(671.8 569.1) scale(1 1.09)" font-size="22.8">2.0</text>
<circle cx="645" cy="593.9" r="7.2" fill="#21918c"/>
<text transform="translate(671.8 602.7) scale(1 1.09)" font-size="22.8">1.0</text>
<circle cx="645" cy="627.6" r="7.2" fill="#287c8e"/>
<text transform="translate(671.8 636.4) scale(1 1.09)" font-size="22.8">0.5</text>
<circle cx="645" cy="661.3" r="7.2" fill="#33638d"/>
<text transform="translate(671.8 670.1) scale(1 1.09)" font-size="22.8">0.25</text>
<circle cx="645" cy="695.0" r="7.2" fill="#3f4889"/>
<text transform="translate(671.8 703.8) scale(1 1.09)" font-size="22.8">0.125</text>
<circle cx="645" cy="728.7" r="7.2" fill="#472c7a"/>
<text transform="translate(671.8 737.5) scale(1 1.09)" font-size="22.8">0.0</text>
<path d="M746.5 535V544" stroke="#cdf1c1" stroke-width="1" fill="none"/>
<path d="M746.5 602.6V614.2" stroke="#c4eed8" stroke-width="1" fill="none"/>
<path d="M746.5 658.8V666.3" stroke="#bfe6de" stroke-width="1" fill="none"/>
<path d="M746.5 689.5V698.5" stroke="#cfcde6" stroke-width="1" fill="none"/>
<path d="M98.2 898.5V1115" stroke="#000" stroke-width="1.9" fill="none"/>
<text transform="translate(80.5 1095.6) scale(1 1.09)" text-anchor="end">0</text>
<text transform="translate(80.5 1041.6) scale(1 1.09)" text-anchor="end">2</text>
<text transform="translate(80.5 987.6) scale(1 1.09)" text-anchor="end">4</text>
<text transform="translate(80.5 933.6) scale(1 1.09)" text-anchor="end">6</text>
<path d="M89.5 1087.5H98.2M89.5 1033.5H98.2M89.5 979.5H98.2M89.5 925.5H98.2" stroke="#000" stroke-width="1.9" fill="none"/>
<path d="M120.5 1138H167.3M175.3 1138H747.5M137 1138V1146M207.0 1138V1146.0M438.5 1138V1146.0M670.0 1138V1146.0M276.7 1138V1143M317.5 1138V1143M346.4 1138V1143M368.8 1138V1143M387.1 1138V1143M402.6 1138V1143M416.1 1138V1143M427.9 1138V1143M508.2 1138V1143M549.0 1138V1143M577.9 1138V1143M600.3 1138V1143M618.6 1138V1143M634.1 1138V1143M647.6 1138V1143M659.4 1138V1143M739.7 1138V1143M739.7 1138V1143" stroke="#000" stroke-width="1.9" fill="none"/>
<path d="M164.2 1143.2L170.5 1133M171.8 1143.2L179 1133" stroke="#000" stroke-width="1.7" fill="none"/>
<text transform="translate(137 1171.8) scale(1 1.09)" text-anchor="middle">0</text>
<text transform="translate(207 1171.8) scale(1 1.09)" text-anchor="middle">0.1</text>
<text transform="translate(438.5 1171.8) scale(1 1.09)" text-anchor="middle">1</text>
<text transform="translate(670 1171.8) scale(1 1.09)" text-anchor="middle">10</text>
<text x="6.8" y="847">Change in</text>
<text x="15.8" y="872.2">slope (%)</text>
<text x="59.3" y="1196.5" font-weight="bold" font-size="23">c)</text>
<text x="434" y="1202" text-anchor="middle">Yeast concentration (mg/mL)</text>
<text x="556" y="1067">y=0.7806x-0.2194</text>
<text x="599" y="1092">R&#178;=0.9948</text>
<circle cx="136.8" cy="1095.3" r="2.5" fill="#472c7a" opacity="0.15"/>
<circle cx="136.8" cy="1086.6" r="2.6" fill="#472c7a"/>
<circle cx="136.8" cy="1088.5" r="2.6" fill="#472c7a"/>
<circle cx="136.8" cy="1090.4" r="2.6" fill="#472c7a"/>
<circle cx="229.3" cy="1089.7" r="2.6" fill="#3f4889"/>
<circle cx="229.3" cy="1091.8" r="2.6" fill="#3f4889"/>
<circle cx="229.3" cy="1093.9" r="2.6" fill="#3f4889"/>
<circle cx="298.8" cy="1088.2" r="2.6" fill="#33638d"/>
<circle cx="298.8" cy="1090.4" r="2.6" fill="#33638d"/>
<circle cx="298.8" cy="1092.6" r="2.6" fill="#33638d"/>
<circle cx="368.6" cy="1083.5" r="2.6" fill="#287c8e"/>
<circle cx="368.6" cy="1085.7" r="2.6" fill="#287c8e"/>
<circle cx="368.6" cy="1087.9" r="2.6" fill="#287c8e"/>
<circle cx="438.2" cy="1069.8" r="2.6" fill="#21918c"/>
<circle cx="438.2" cy="1073.2" r="2.6" fill="#21918c"/>
<circle cx="438.2" cy="1076.6" r="2.6" fill="#21918c"/>
<circle cx="508.1" cy="1050.6" r="2.6" fill="#22a884"/>
<circle cx="508.1" cy="1053.8" r="2.6" fill="#22a884"/>
<circle cx="508.1" cy="1057.0" r="2.6" fill="#22a884"/>
<circle cx="577.5" cy="996.2" r="2.6" fill="#44bf70"/>
<circle cx="577.5" cy="1001.0" r="2.6" fill="#44bf70"/>
<circle cx="577.5" cy="1005.7" r="2.6" fill="#44bf70"/>
<circle cx="647.2" cy="922.7" r="2.6" fill="#7ad151"/>
<circle cx="647.2" cy="928.0" r="2.6" fill="#7ad151"/>
<circle cx="647.2" cy="933.2" r="2.6" fill="#7ad151"/>
<path d="M185.9 1091.7L194.0 1091.6L202.1 1091.4L210.2 1091.2L218.2 1091.1L226.3 1090.9L234.4 1090.7L242.4 1090.4L250.5 1090.2L258.6 1089.9L266.7 1089.6L274.7 1089.3L282.8 1088.9L290.9 1088.6L298.9 1088.2L307.0 1087.7L315.1 1087.2L323.2 1086.7L331.2 1086.2L339.3 1085.6L347.4 1084.9L355.4 1084.2L363.5 1083.4L371.6 1082.6L379.7 1081.7L387.7 1080.7L395.8 1079.6L403.9 1078.5L411.9 1077.2L420.0 1075.9L428.1 1074.4L436.2 1072.8L444.2 1071.1L452.3 1069.2L460.4 1067.2L468.4 1065.0L476.5 1062.7L484.6 1060.1L492.7 1057.3L500.7 1054.3L508.8 1051.0L516.9 1047.5L524.9 1043.6L533.0 1039.5L541.1 1035.0L549.2 1030.1L557.2 1024.8L565.3 1019.0L573.4 1012.8L581.4 1006.1L589.5 998.8L597.6 990.9L605.7 982.3L613.7 973.0L621.8 962.9L629.9 952.0L637.9 940.2L646.0 927.4L654.1 913.5L662.2 898.5" stroke="#000" stroke-width="1.25" fill="none" stroke-dasharray="4.3 2.06" stroke-dashoffset="3.1"/>
<path d="M121.3 1091.5L158.8 1091.5" stroke="#000" stroke-width="1.25" fill="none" stroke-dasharray="4.3 2.06" stroke-dashoffset="3.1"/>
<path d="M129.8 1088.4H143.8" stroke="#000" stroke-width="2.8"/>
<path d="M222.3 1091.4H236.3" stroke="#000" stroke-width="3.3"/>
<path d="M291.8 1090.1H305.8" stroke="#000" stroke-width="5.0"/>
<path d="M361.6 1085.2H375.6" stroke="#000" stroke-width="5.2"/>
<path d="M431.2 1070.8H445.2" stroke="#000" stroke-width="2.0"/>
<path d="M431.2 1074.7H445.2" stroke="#000" stroke-width="2.0"/>
<path d="M438.2 1070.8V1074.7" stroke="#000" stroke-width="1.4"/>
<path d="M501.1 1054.0H515.1" stroke="#000" stroke-width="4.6"/>
<path d="M570.5 998.6H584.5" stroke="#000" stroke-width="2.0"/>
<path d="M570.5 1002.9H584.5" stroke="#000" stroke-width="2.0"/>
<path d="M577.5 998.6V1002.9" stroke="#000" stroke-width="1.4"/>
<path d="M640.2 925.9H654.2" stroke="#000" stroke-width="2.0"/>
<path d="M640.2 930.7H654.2" stroke="#000" stroke-width="2.0"/>
<path d="M647.2 925.9V930.7" stroke="#000" stroke-width="1.4"/>
</svg>
</body></html>
